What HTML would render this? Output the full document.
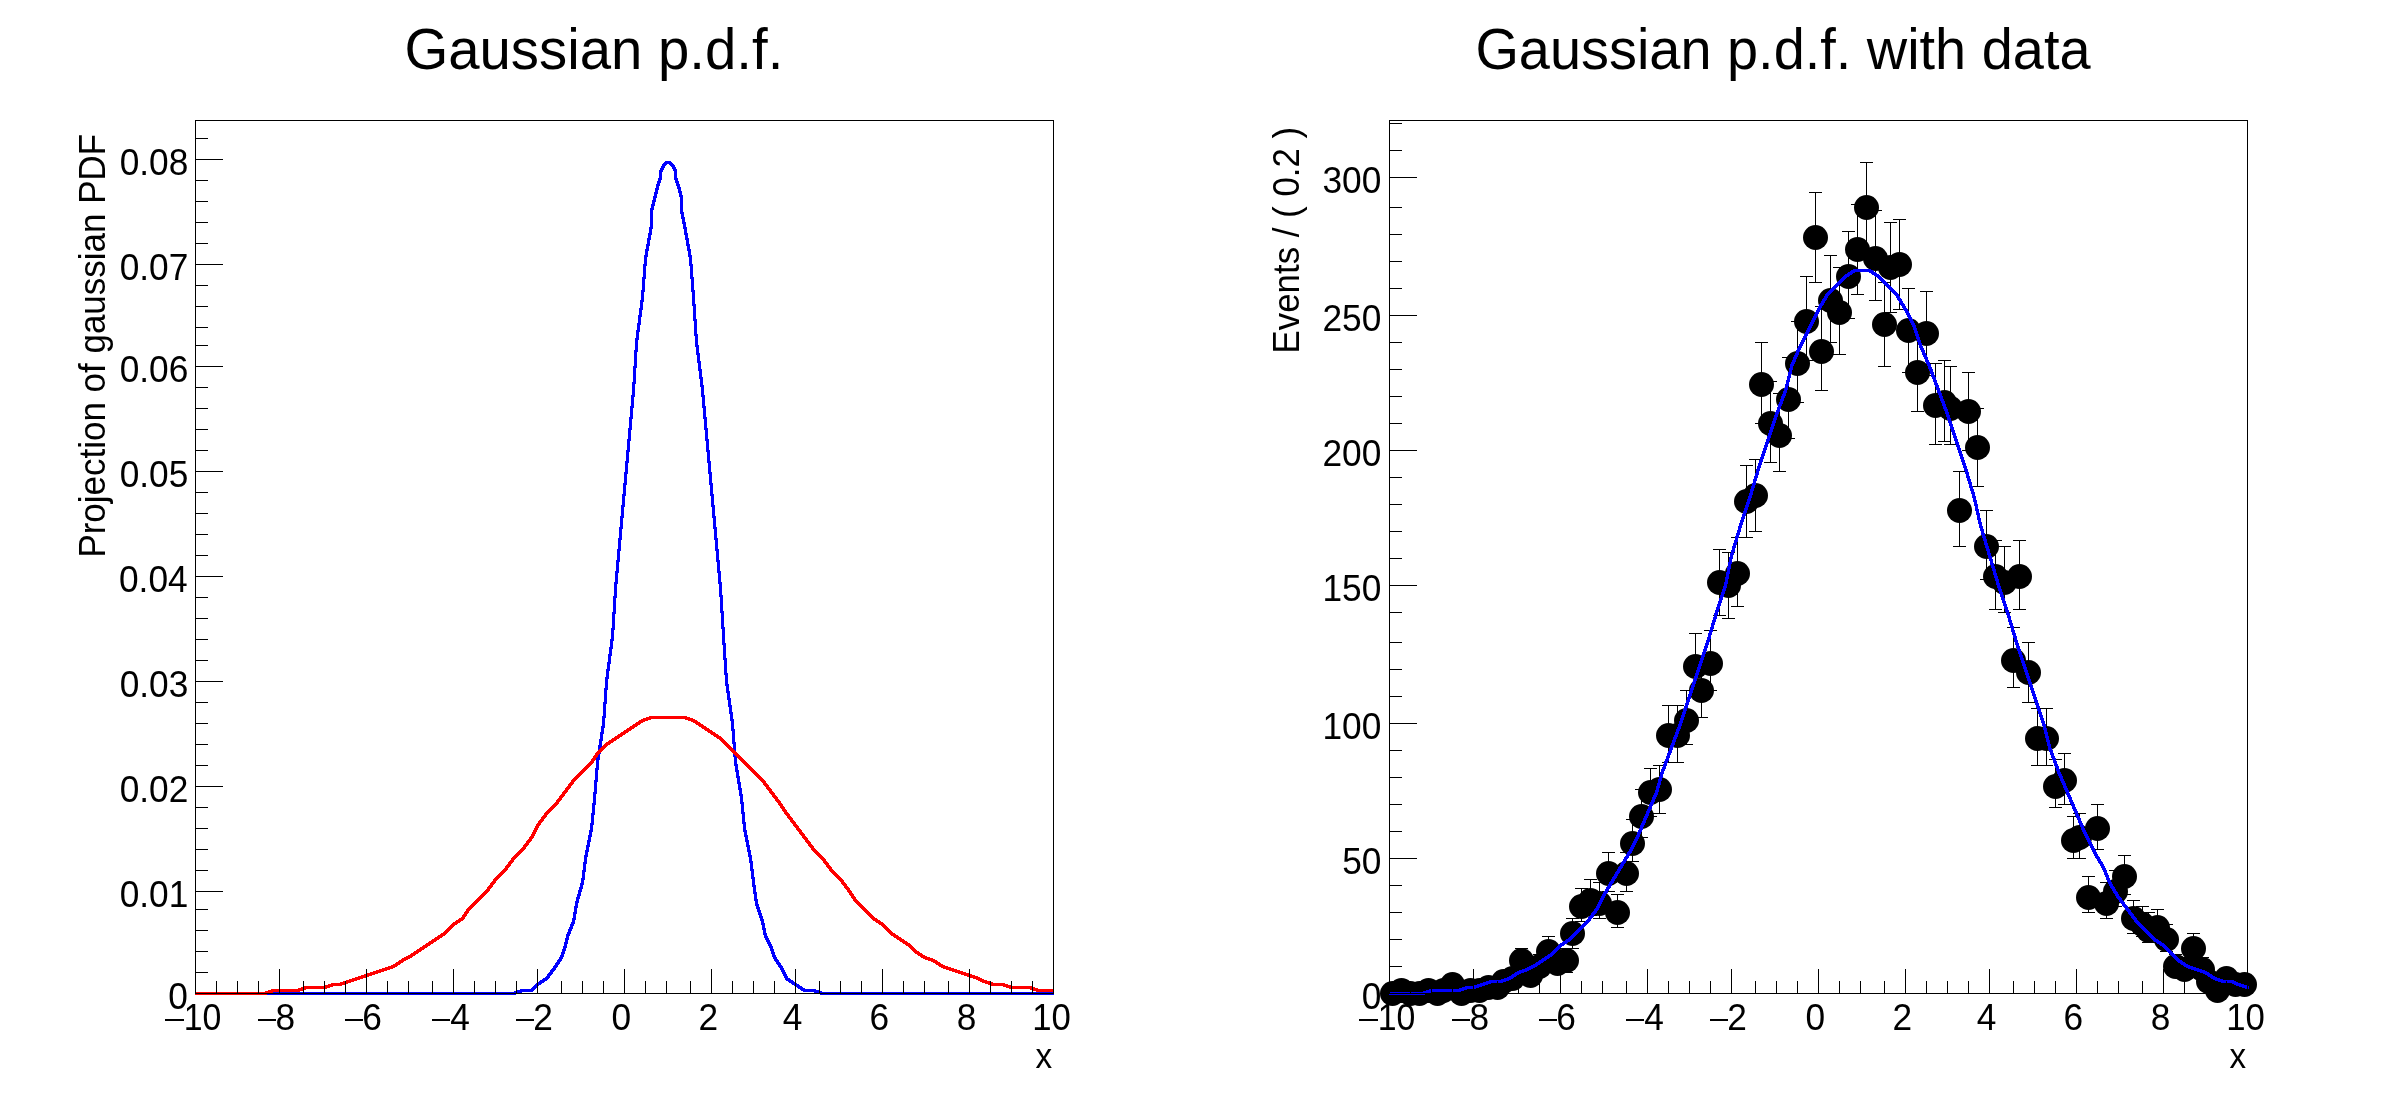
<!DOCTYPE html>
<html><head><meta charset="utf-8"><style>
html,body{margin:0;padding:0;background:#fff;overflow:hidden;}
svg{display:block;will-change:transform;}
text{font-family:"Liberation Sans",sans-serif;font-size:100px;fill:#000;}
.t{opacity:0.999;}
</style></head><body>
<svg width="2388" height="1116" viewBox="0 0 2388 1116">
<rect x="0" y="0" width="2388" height="1116" fill="#fff"/>
<g shape-rendering="crispEdges">
<path fill="#0000ff" d="M665 161h6v1h-6zM664 162h8v1h-8zM663 163h10v1h-10zM662 164h5v1h-5zM669 164h5v1h-5zM670 165h5v1h-5zM662 165h4v1h-4zM671 166h4v1h-4zM661 166h4v2h-4zM672 167h4v2h-4zM660 168h4v2h-4zM673 169h4v2h-4zM659 170h4v2h-4zM659 172h3v6h-3zM674 171h3v7h-3zM674 178h4v2h-4zM658 178h4v2h-4zM658 180h3v1h-3zM675 180h3v1h-3zM657 181h4v2h-4zM675 181h4v2h-4zM676 183h3v1h-3zM657 183h3v1h-3zM676 184h4v2h-4zM656 184h4v2h-4zM677 186h3v1h-3zM656 186h3v2h-3zM677 187h4v2h-4zM655 188h4v2h-4zM678 189h3v2h-3zM655 190h3v2h-3zM678 191h4v2h-4zM654 192h4v2h-4zM679 193h3v2h-3zM654 194h3v2h-3zM679 195h4v2h-4zM653 196h4v2h-4zM653 198h3v2h-3zM652 200h4v2h-4zM652 202h3v2h-3zM651 204h4v2h-4zM651 206h3v2h-3zM650 208h4v2h-4zM680 197h3v15h-3zM680 212h4v2h-4zM681 214h3v3h-3zM681 217h4v2h-4zM682 219h3v3h-3zM682 222h4v2h-4zM650 210h3v17h-3zM683 224h3v3h-3zM683 227h4v2h-4zM649 227h4v2h-4zM649 229h3v4h-3zM684 229h3v4h-3zM648 233h4v2h-4zM684 233h4v2h-4zM648 235h3v3h-3zM685 235h3v3h-3zM685 238h4v2h-4zM647 238h4v2h-4zM647 240h3v4h-3zM686 240h3v4h-3zM646 244h4v2h-4zM686 244h4v2h-4zM646 246h3v3h-3zM687 246h3v3h-3zM645 249h4v2h-4zM687 249h4v2h-4zM645 251h3v4h-3zM688 251h3v4h-3zM688 255h4v2h-4zM644 255h4v2h-4zM689 257h3v7h-3zM644 257h3v7h-3zM643 264h4v2h-4zM689 264h4v2h-4zM643 266h3v11h-3zM690 266h3v11h-3zM690 277h4v2h-4zM642 277h4v2h-4zM691 279h3v11h-3zM642 279h3v11h-3zM641 290h4v2h-4zM691 290h4v2h-4zM641 292h3v8h-3zM640 300h4v2h-4zM692 292h3v12h-3zM692 304h4v2h-4zM640 302h3v6h-3zM639 308h4v2h-4zM639 310h3v5h-3zM638 315h4v2h-4zM693 306h3v13h-3zM693 319h4v2h-4zM638 317h3v6h-3zM637 323h4v2h-4zM637 325h3v5h-3zM636 330h4v2h-4zM694 321h3v13h-3zM694 334h4v2h-4zM636 332h3v6h-3zM635 338h4v2h-4zM695 336h3v9h-3zM695 345h4v2h-4zM635 340h3v10h-3zM634 350h4v2h-4zM696 347h3v6h-3zM696 353h4v2h-4zM697 355h3v6h-3zM697 361h4v2h-4zM634 352h3v14h-3zM633 366h4v2h-4zM698 363h3v6h-3zM698 369h4v2h-4zM699 371h3v6h-3zM699 377h4v2h-4zM633 368h3v14h-3zM632 382h4v2h-4zM700 379h3v6h-3zM700 385h4v2h-4zM701 387h3v8h-3zM632 384h3v11h-3zM631 395h4v2h-4zM701 395h4v2h-4zM702 397h3v9h-3zM631 397h3v9h-3zM630 406h4v2h-4zM702 406h4v2h-4zM703 408h3v9h-3zM630 408h3v9h-3zM703 417h4v2h-4zM629 417h4v2h-4zM704 419h3v9h-3zM629 419h3v9h-3zM628 428h4v2h-4zM704 428h4v2h-4zM628 430h3v9h-3zM705 430h3v9h-3zM705 439h4v2h-4zM627 439h4v2h-4zM627 441h3v9h-3zM706 441h3v9h-3zM706 450h4v2h-4zM626 450h4v2h-4zM626 452h3v9h-3zM707 452h3v9h-3zM707 461h4v2h-4zM625 461h4v2h-4zM625 463h3v9h-3zM708 463h3v9h-3zM624 472h4v2h-4zM708 472h4v2h-4zM709 474h3v9h-3zM624 474h3v9h-3zM623 483h4v2h-4zM709 483h4v2h-4zM710 485h3v9h-3zM623 485h3v9h-3zM710 494h4v2h-4zM622 494h4v2h-4zM711 496h3v9h-3zM622 496h3v9h-3zM711 505h4v2h-4zM621 505h4v2h-4zM712 507h3v9h-3zM621 507h3v9h-3zM712 516h4v2h-4zM620 516h4v2h-4zM713 518h3v9h-3zM620 518h3v9h-3zM619 527h4v2h-4zM713 527h4v2h-4zM619 529h3v9h-3zM714 529h3v9h-3zM714 538h4v2h-4zM618 538h4v2h-4zM715 540h3v9h-3zM618 540h3v9h-3zM617 549h4v2h-4zM715 549h4v2h-4zM617 551h3v9h-3zM716 551h3v9h-3zM716 560h4v2h-4zM616 560h4v2h-4zM616 562h3v9h-3zM717 562h3v9h-3zM615 571h4v2h-4zM717 571h4v2h-4zM615 573h3v9h-3zM718 573h3v9h-3zM718 582h4v2h-4zM614 582h4v2h-4zM719 584h3v11h-3zM614 584h3v12h-3zM719 595h4v2h-4zM613 596h4v2h-4zM720 597h3v14h-3zM613 598h3v14h-3zM720 611h4v2h-4zM612 612h4v2h-4zM721 613h3v14h-3zM612 614h3v14h-3zM721 627h4v2h-4zM611 628h4v2h-4zM611 630h3v9h-3zM610 639h4v2h-4zM722 629h3v14h-3zM722 643h4v2h-4zM610 641h3v6h-3zM609 647h4v2h-4zM609 649h3v5h-3zM608 654h4v2h-4zM723 645h3v13h-3zM723 658h4v2h-4zM608 656h3v6h-3zM607 662h4v2h-4zM607 664h3v5h-3zM606 669h4v2h-4zM724 660h3v13h-3zM724 673h4v2h-4zM606 671h3v6h-3zM605 677h4v2h-4zM725 675h3v9h-3zM725 684h4v2h-4zM605 679h3v9h-3zM604 688h4v2h-4zM726 686h3v5h-3zM726 691h4v2h-4zM727 693h3v5h-3zM727 698h4v2h-4zM604 690h3v12h-3zM603 702h4v2h-4zM728 700h3v5h-3zM728 705h4v2h-4zM729 707h3v5h-3zM729 712h4v2h-4zM603 704h3v12h-3zM602 716h4v2h-4zM730 714h3v5h-3zM730 719h4v2h-4zM602 718h3v8h-3zM601 726h4v2h-4zM731 721h3v8h-3zM731 729h4v2h-4zM601 728h3v4h-3zM600 732h4v2h-4zM600 734h3v5h-3zM599 739h4v2h-4zM732 731h3v11h-3zM732 742h4v2h-4zM599 741h3v4h-3zM598 745h4v2h-4zM598 747h3v5h-3zM597 752h4v2h-4zM733 744h3v11h-3zM733 755h4v2h-4zM597 754h3v4h-3zM596 758h4v2h-4zM734 757h3v7h-3zM734 764h4v2h-4zM596 760h3v8h-3zM595 768h4v2h-4zM735 766h3v4h-3zM735 770h4v2h-4zM736 772h3v4h-3zM736 776h4v2h-4zM595 770h3v10h-3zM737 778h3v4h-3zM594 780h4v2h-4zM737 782h4v2h-4zM738 784h3v4h-3zM738 788h4v2h-4zM594 782h3v10h-3zM593 792h4v2h-4zM739 790h3v4h-3zM739 794h4v2h-4zM740 796h3v6h-3zM593 794h3v9h-3zM740 802h4v2h-4zM592 803h4v2h-4zM741 804h3v8h-3zM592 805h3v8h-3zM741 812h4v2h-4zM591 813h4v2h-4zM742 814h3v8h-3zM591 815h3v8h-3zM742 822h4v2h-4zM590 823h4v2h-4zM743 824h3v6h-3zM590 825h3v5h-3zM743 830h4v2h-4zM589 830h4v2h-4zM744 832h3v3h-3zM589 832h3v3h-3zM588 835h4v2h-4zM744 835h4v2h-4zM588 837h3v3h-3zM745 837h3v3h-3zM745 840h4v2h-4zM587 840h4v2h-4zM746 842h3v3h-3zM587 842h3v3h-3zM586 845h4v2h-4zM746 845h4v2h-4zM586 847h3v3h-3zM747 847h3v3h-3zM747 850h4v2h-4zM585 850h4v2h-4zM748 852h3v3h-3zM585 852h3v3h-3zM584 855h4v2h-4zM748 855h4v2h-4zM749 857h3v4h-3zM584 857h3v5h-3zM749 861h4v2h-4zM583 862h4v2h-4zM750 863h3v6h-3zM583 864h3v6h-3zM750 869h4v2h-4zM582 870h4v2h-4zM751 871h3v6h-3zM582 872h3v6h-3zM751 877h4v2h-4zM581 878h4v2h-4zM581 880h3v3h-3zM580 883h4v2h-4zM752 879h3v6h-3zM580 885h3v2h-3zM752 885h4v2h-4zM579 887h4v2h-4zM579 889h3v1h-3zM753 887h3v5h-3zM578 890h4v2h-4zM753 892h4v2h-4zM578 892h3v2h-3zM577 894h4v2h-4zM577 896h3v1h-3zM754 894h3v5h-3zM576 897h4v2h-4zM754 899h4v2h-4zM576 899h3v2h-3zM575 901h4v2h-4zM755 901h3v3h-3zM575 903h3v3h-3zM755 904h4v2h-4zM756 906h3v1h-3zM574 906h4v2h-4zM756 907h4v2h-4zM757 909h3v1h-3zM574 908h3v4h-3zM757 910h4v2h-4zM758 912h3v1h-3zM573 912h4v2h-4zM758 913h4v2h-4zM759 915h3v1h-3zM573 914h3v4h-3zM759 916h4v2h-4zM760 918h3v1h-3zM572 918h4v2h-4zM760 919h4v2h-4zM572 920h3v2h-3zM761 921h3v2h-3zM571 922h4v2h-4zM761 923h4v2h-4zM570 924h4v2h-4zM570 926h3v1h-3zM762 925h3v3h-3zM569 927h4v2h-4zM762 928h4v2h-4zM568 929h4v2h-4zM568 931h3v1h-3zM763 930h3v3h-3zM567 932h4v2h-4zM763 933h4v2h-4zM566 934h4v2h-4zM764 935h3v1h-3zM566 936h3v2h-3zM764 936h4v2h-4zM765 938h4v2h-4zM565 938h4v2h-4zM766 940h4v2h-4zM565 940h3v2h-3zM767 942h4v2h-4zM564 942h4v2h-4zM564 944h3v2h-3zM768 944h4v2h-4zM769 946h4v2h-4zM563 946h4v2h-4zM770 948h3v1h-3zM563 948h3v1h-3zM562 949h4v2h-4zM770 949h4v2h-4zM562 951h3v1h-3zM771 951h3v1h-3zM771 952h4v2h-4zM561 952h4v2h-4zM561 954h3v1h-3zM772 954h3v1h-3zM772 955h4v2h-4zM560 955h4v2h-4zM773 957h4v2h-4zM559 957h4v2h-4zM774 959h4v1h-4zM558 959h4v1h-4zM774 960h5v1h-5zM557 960h5v1h-5zM557 961h4v1h-4zM775 961h4v1h-4zM776 962h4v1h-4zM556 962h4v1h-4zM776 963h5v1h-5zM555 963h5v1h-5zM555 964h4v1h-4zM777 964h4v1h-4zM778 965h4v1h-4zM554 965h4v1h-4zM778 966h5v1h-5zM553 966h5v1h-5zM553 967h4v1h-4zM779 967h4v1h-4zM552 968h4v1h-4zM780 968h4v2h-4zM551 969h5v1h-5zM550 970h5v1h-5zM550 971h4v1h-4zM781 970h4v2h-4zM549 972h4v1h-4zM782 972h4v2h-4zM548 973h5v1h-5zM547 974h5v1h-5zM547 975h4v1h-4zM783 974h4v2h-4zM546 976h4v1h-4zM545 977h5v1h-5zM784 976h4v2h-4zM543 978h6v1h-6zM785 978h5v1h-5zM785 979h6v1h-6zM542 979h6v1h-6zM786 980h7v1h-7zM540 980h7v1h-7zM788 981h6v1h-6zM539 981h6v1h-6zM537 982h7v1h-7zM789 982h7v1h-7zM536 983h6v1h-6zM791 983h6v1h-6zM535 984h6v1h-6zM792 984h7v1h-7zM534 985h5v1h-5zM794 985h6v1h-6zM795 986h7v1h-7zM533 986h5v1h-5zM532 987h5v1h-5zM797 987h6v1h-6zM531 988h5v1h-5zM798 988h7v1h-7zM520 989h15v1h-15zM800 989h16v1h-16zM517 990h17v1h-17zM801 990h18v1h-18zM803 991h19v1h-19zM514 991h19v1h-19zM195 992h327v1h-327zM814 992h240v1h-240zM195 993h324v1h-324zM817 993h237v1h-237zM195 994h321v1h-321zM820 994h234v1h-234z"/>
<path fill="#ff0000" d="M649 716h38v1h-38zM646 717h44v1h-44zM643 718h50v1h-50zM685 719h10v1h-10zM641 719h10v1h-10zM639 720h9v1h-9zM688 720h9v1h-9zM691 721h7v1h-7zM638 721h7v1h-7zM636 722h7v1h-7zM693 722h7v1h-7zM695 723h6v1h-6zM635 723h6v1h-6zM696 724h7v1h-7zM633 724h7v1h-7zM698 725h6v1h-6zM632 725h6v1h-6zM630 726h7v1h-7zM699 726h7v1h-7zM629 727h6v1h-6zM701 727h6v1h-6zM702 728h7v1h-7zM627 728h7v1h-7zM704 729h6v1h-6zM626 729h6v1h-6zM624 730h7v1h-7zM705 730h7v1h-7zM707 731h6v1h-6zM623 731h6v1h-6zM621 732h7v1h-7zM708 732h7v1h-7zM620 733h6v1h-6zM710 733h6v1h-6zM711 734h7v1h-7zM618 734h7v1h-7zM713 735h6v1h-6zM617 735h6v1h-6zM615 736h7v1h-7zM714 736h7v1h-7zM614 737h6v1h-6zM716 737h6v1h-6zM612 738h7v1h-7zM717 738h6v1h-6zM719 739h5v1h-5zM611 739h6v1h-6zM609 740h7v1h-7zM720 740h5v1h-5zM721 741h5v1h-5zM608 741h6v1h-6zM722 742h5v1h-5zM606 742h7v1h-7zM605 743h6v1h-6zM723 743h5v1h-5zM604 744h6v1h-6zM724 744h5v1h-5zM725 745h5v1h-5zM603 745h5v1h-5zM726 746h5v1h-5zM602 746h5v1h-5zM727 747h5v1h-5zM601 747h5v1h-5zM728 748h5v1h-5zM600 748h5v1h-5zM729 749h5v1h-5zM599 749h5v1h-5zM730 750h5v1h-5zM598 750h5v1h-5zM597 751h5v1h-5zM731 751h5v1h-5zM596 752h5v1h-5zM732 752h5v1h-5zM595 753h5v1h-5zM733 753h5v1h-5zM595 754h4v1h-4zM734 754h5v1h-5zM594 755h4v1h-4zM735 755h5v1h-5zM736 756h5v1h-5zM593 756h5v1h-5zM593 757h4v1h-4zM737 757h5v1h-5zM592 758h4v1h-4zM738 758h5v1h-5zM739 759h5v1h-5zM591 759h5v1h-5zM591 760h4v1h-4zM740 760h5v1h-5zM741 761h5v1h-5zM590 761h4v1h-4zM589 762h5v1h-5zM742 762h5v1h-5zM743 763h5v1h-5zM588 763h5v1h-5zM587 764h5v1h-5zM744 764h5v1h-5zM745 765h5v1h-5zM586 765h5v1h-5zM585 766h5v1h-5zM746 766h5v1h-5zM747 767h5v1h-5zM584 767h5v1h-5zM748 768h5v1h-5zM583 768h5v1h-5zM582 769h5v1h-5zM749 769h5v1h-5zM750 770h5v1h-5zM581 770h5v1h-5zM580 771h5v1h-5zM751 771h5v1h-5zM752 772h5v1h-5zM579 772h5v1h-5zM578 773h5v1h-5zM753 773h5v1h-5zM754 774h5v1h-5zM577 774h5v1h-5zM576 775h5v1h-5zM755 775h5v1h-5zM756 776h5v1h-5zM575 776h5v1h-5zM757 777h5v1h-5zM574 777h5v1h-5zM758 778h5v1h-5zM573 778h5v1h-5zM759 779h5v1h-5zM572 779h5v1h-5zM571 780h5v1h-5zM760 780h5v1h-5zM761 781h5v1h-5zM571 781h4v1h-4zM762 782h4v1h-4zM570 782h4v1h-4zM763 783h4v1h-4zM569 783h5v1h-5zM763 784h5v1h-5zM568 784h5v1h-5zM568 785h4v1h-4zM764 785h5v1h-5zM567 786h4v1h-4zM765 786h4v1h-4zM766 787h4v1h-4zM566 787h5v1h-5zM565 788h5v1h-5zM766 788h5v1h-5zM767 789h5v1h-5zM565 789h4v1h-4zM564 790h4v1h-4zM768 790h4v1h-4zM563 791h5v1h-5zM769 791h4v1h-4zM562 792h5v1h-5zM769 792h5v1h-5zM562 793h4v1h-4zM770 793h5v1h-5zM771 794h4v1h-4zM561 794h4v1h-4zM772 795h4v1h-4zM560 795h5v1h-5zM772 796h5v1h-5zM559 796h5v1h-5zM559 797h4v1h-4zM773 797h5v1h-5zM774 798h4v1h-4zM558 798h4v1h-4zM775 799h4v1h-4zM557 799h5v1h-5zM556 800h5v1h-5zM775 800h5v1h-5zM556 801h4v1h-4zM776 801h5v1h-5zM555 802h4v1h-4zM777 802h4v1h-4zM554 803h5v1h-5zM778 803h4v1h-4zM778 804h5v1h-5zM553 804h5v1h-5zM779 805h4v1h-4zM552 805h5v1h-5zM780 806h4v1h-4zM551 806h5v1h-5zM780 807h5v1h-5zM550 807h5v1h-5zM549 808h5v1h-5zM781 808h4v1h-4zM782 809h4v1h-4zM548 809h5v1h-5zM547 810h5v1h-5zM782 810h5v1h-5zM546 811h5v1h-5zM783 811h4v1h-4zM545 812h5v1h-5zM784 812h4v1h-4zM544 813h5v1h-5zM784 813h5v1h-5zM785 814h5v1h-5zM544 814h4v1h-4zM786 815h4v1h-4zM543 815h4v1h-4zM787 816h4v1h-4zM542 816h5v1h-5zM787 817h5v1h-5zM541 817h5v1h-5zM541 818h4v1h-4zM788 818h5v1h-5zM540 819h4v1h-4zM789 819h4v1h-4zM539 820h5v1h-5zM790 820h4v1h-4zM538 821h5v1h-5zM790 821h5v1h-5zM538 822h4v1h-4zM791 822h5v1h-5zM537 823h4v1h-4zM792 823h4v1h-4zM536 824h5v1h-5zM793 824h4v1h-4zM793 825h5v1h-5zM536 825h4v1h-4zM794 826h5v1h-5zM795 827h4v1h-4zM535 826h4v2h-4zM796 828h4v1h-4zM534 828h4v2h-4zM796 829h5v1h-5zM797 830h5v1h-5zM798 831h4v1h-4zM533 830h4v2h-4zM799 832h4v1h-4zM799 833h5v1h-5zM532 832h4v2h-4zM800 834h5v1h-5zM531 834h4v2h-4zM801 835h4v1h-4zM802 836h4v1h-4zM530 836h4v1h-4zM529 837h5v1h-5zM802 837h5v1h-5zM803 838h5v1h-5zM529 838h4v1h-4zM804 839h4v1h-4zM528 839h4v1h-4zM805 840h4v1h-4zM527 840h5v1h-5zM805 841h5v1h-5zM526 841h5v1h-5zM526 842h4v1h-4zM806 842h5v1h-5zM807 843h4v1h-4zM525 843h4v1h-4zM808 844h4v1h-4zM524 844h5v1h-5zM523 845h5v1h-5zM808 845h5v1h-5zM809 846h5v1h-5zM523 846h4v1h-4zM522 847h4v1h-4zM810 847h4v1h-4zM521 848h5v1h-5zM811 848h4v1h-4zM811 849h5v1h-5zM520 849h5v1h-5zM812 850h5v1h-5zM519 850h5v1h-5zM813 851h5v1h-5zM518 851h5v1h-5zM814 852h5v1h-5zM517 852h5v1h-5zM516 853h5v1h-5zM815 853h5v1h-5zM816 854h5v1h-5zM515 854h5v1h-5zM514 855h5v1h-5zM817 855h5v1h-5zM818 856h5v1h-5zM513 856h5v1h-5zM512 857h5v1h-5zM819 857h5v1h-5zM820 858h5v1h-5zM511 858h5v1h-5zM511 859h4v1h-4zM821 859h5v1h-5zM822 860h4v1h-4zM510 860h4v1h-4zM509 861h5v1h-5zM823 861h4v1h-4zM823 862h5v1h-5zM508 862h5v1h-5zM824 863h5v1h-5zM508 863h4v1h-4zM507 864h4v1h-4zM825 864h4v1h-4zM826 865h4v1h-4zM506 865h5v1h-5zM505 866h5v1h-5zM826 866h5v1h-5zM505 867h4v1h-4zM827 867h5v1h-5zM828 868h4v1h-4zM504 868h4v1h-4zM829 869h4v1h-4zM503 869h5v1h-5zM829 870h5v1h-5zM502 870h5v1h-5zM501 871h5v1h-5zM830 871h5v1h-5zM831 872h5v1h-5zM500 872h5v1h-5zM499 873h5v1h-5zM832 873h5v1h-5zM498 874h5v1h-5zM833 874h5v1h-5zM497 875h5v1h-5zM834 875h5v1h-5zM496 876h5v1h-5zM835 876h5v1h-5zM836 877h5v1h-5zM495 877h5v1h-5zM494 878h5v1h-5zM837 878h5v1h-5zM838 879h5v1h-5zM493 879h5v1h-5zM493 880h4v1h-4zM839 880h5v1h-5zM492 881h4v1h-4zM840 881h4v1h-4zM841 882h4v1h-4zM491 882h5v1h-5zM490 883h5v1h-5zM841 883h5v1h-5zM842 884h5v1h-5zM490 884h4v1h-4zM489 885h4v1h-4zM843 885h4v1h-4zM488 886h5v1h-5zM844 886h4v1h-4zM487 887h5v1h-5zM844 887h5v1h-5zM487 888h4v1h-4zM845 888h5v1h-5zM846 889h4v1h-4zM486 889h4v1h-4zM847 890h4v1h-4zM485 890h5v1h-5zM847 891h5v1h-5zM484 891h5v1h-5zM483 892h5v1h-5zM848 892h4v1h-4zM482 893h5v1h-5zM849 893h4v1h-4zM481 894h5v1h-5zM849 894h5v1h-5zM850 895h4v1h-4zM480 895h5v1h-5zM851 896h4v1h-4zM479 896h5v1h-5zM851 897h5v1h-5zM478 897h5v1h-5zM852 898h4v1h-4zM477 898h5v1h-5zM853 899h4v1h-4zM476 899h5v1h-5zM475 900h5v1h-5zM853 900h5v1h-5zM474 901h5v1h-5zM854 901h5v1h-5zM855 902h5v1h-5zM473 902h5v1h-5zM856 903h5v1h-5zM472 903h5v1h-5zM857 904h5v1h-5zM471 904h5v1h-5zM858 905h5v1h-5zM470 905h5v1h-5zM469 906h5v1h-5zM859 906h5v1h-5zM860 907h5v1h-5zM468 907h5v1h-5zM861 908h5v1h-5zM467 908h5v1h-5zM466 909h5v1h-5zM862 909h5v1h-5zM863 910h5v1h-5zM466 910h4v1h-4zM465 911h4v1h-4zM864 911h5v1h-5zM464 912h5v1h-5zM865 912h5v1h-5zM866 913h5v1h-5zM464 913h4v1h-4zM867 914h5v1h-5zM463 914h4v1h-4zM868 915h5v1h-5zM462 915h5v1h-5zM869 916h5v1h-5zM462 916h4v1h-4zM461 917h4v1h-4zM870 917h5v1h-5zM871 918h6v1h-6zM459 918h6v1h-6zM458 919h6v1h-6zM872 919h6v1h-6zM456 920h7v1h-7zM873 920h7v1h-7zM455 921h6v1h-6zM875 921h6v1h-6zM453 922h7v1h-7zM876 922h7v1h-7zM878 923h6v1h-6zM452 923h6v1h-6zM451 924h6v1h-6zM879 924h6v1h-6zM450 925h5v1h-5zM881 925h5v1h-5zM882 926h5v1h-5zM449 926h5v1h-5zM448 927h5v1h-5zM883 927h5v1h-5zM884 928h5v1h-5zM447 928h5v1h-5zM446 929h5v1h-5zM885 929h5v1h-5zM886 930h5v1h-5zM445 930h5v1h-5zM887 931h5v1h-5zM444 931h5v1h-5zM888 932h5v1h-5zM443 932h5v1h-5zM889 933h6v1h-6zM441 933h6v1h-6zM890 934h6v1h-6zM440 934h6v1h-6zM438 935h7v1h-7zM891 935h7v1h-7zM437 936h6v1h-6zM893 936h6v1h-6zM894 937h7v1h-7zM435 937h7v1h-7zM896 938h6v1h-6zM434 938h6v1h-6zM432 939h7v1h-7zM897 939h7v1h-7zM431 940h6v1h-6zM899 940h6v1h-6zM429 941h7v1h-7zM900 941h7v1h-7zM428 942h6v1h-6zM902 942h6v1h-6zM426 943h7v1h-7zM903 943h7v1h-7zM425 944h6v1h-6zM905 944h6v1h-6zM906 945h6v1h-6zM423 945h7v1h-7zM422 946h6v1h-6zM908 946h5v1h-5zM420 947h7v1h-7zM909 947h5v1h-5zM419 948h6v1h-6zM910 948h5v1h-5zM911 949h5v1h-5zM417 949h7v1h-7zM912 950h5v1h-5zM416 950h6v1h-6zM414 951h7v1h-7zM913 951h6v1h-6zM413 952h6v1h-6zM914 952h6v1h-6zM411 953h7v1h-7zM915 953h7v1h-7zM917 954h6v1h-6zM410 954h6v1h-6zM918 955h7v1h-7zM408 955h7v1h-7zM920 956h7v1h-7zM406 956h7v1h-7zM921 957h9v1h-9zM404 957h8v1h-8zM402 958h8v1h-8zM923 958h10v1h-10zM925 959h10v1h-10zM401 959h7v1h-7zM399 960h7v1h-7zM928 960h9v1h-9zM398 961h6v1h-6zM931 961h7v1h-7zM396 962h7v1h-7zM933 962h7v1h-7zM395 963h6v1h-6zM935 963h6v1h-6zM936 964h7v1h-7zM393 964h7v1h-7zM938 965h7v1h-7zM391 965h7v1h-7zM939 966h9v1h-9zM388 966h9v1h-9zM941 967h10v1h-10zM385 967h10v1h-10zM382 968h11v1h-11zM943 968h11v1h-11zM946 969h11v1h-11zM379 969h11v1h-11zM376 970h11v1h-11zM949 970h11v1h-11zM373 971h11v1h-11zM952 971h11v1h-11zM955 972h11v1h-11zM370 972h11v1h-11zM367 973h11v1h-11zM958 973h11v1h-11zM364 974h11v1h-11zM961 974h11v1h-11zM964 975h11v1h-11zM361 975h11v1h-11zM358 976h11v1h-11zM967 976h11v1h-11zM970 977h10v1h-10zM355 977h11v1h-11zM973 978h9v1h-9zM352 978h11v1h-11zM976 979h8v1h-8zM349 979h11v1h-11zM978 980h9v1h-9zM346 980h11v1h-11zM343 981h11v1h-11zM980 981h10v1h-10zM982 982h11v1h-11zM340 982h11v1h-11zM985 983h20v1h-20zM331 983h17v1h-17zM328 984h17v1h-17zM988 984h20v1h-20zM325 985h17v1h-17zM991 985h20v1h-20zM1003 986h29v1h-29zM304 986h29v1h-29zM301 987h29v1h-29zM1006 987h29v1h-29zM298 988h29v1h-29zM1009 988h29v1h-29zM1030 989h24v1h-24zM271 989h35v1h-35zM268 990h35v1h-35zM1033 990h21v1h-21zM265 991h35v1h-35zM1036 991h18v1h-18zM195 992h78v1h-78zM195 993h75v1h-75zM195 994h72v1h-72z"/>
<rect x="195" y="120" width="859" height="1" fill="#000"/>
<rect x="195" y="993" width="859" height="1" fill="#000"/>
<rect x="195" y="120" width="1" height="874" fill="#000"/>
<rect x="1053" y="120" width="1" height="874" fill="#000"/>
<rect x="195" y="969" width="1" height="25" fill="#000"/>
<rect x="216" y="981" width="1" height="13" fill="#000"/>
<rect x="237" y="981" width="1" height="13" fill="#000"/>
<rect x="258" y="981" width="1" height="13" fill="#000"/>
<rect x="279" y="969" width="1" height="25" fill="#000"/>
<rect x="303" y="981" width="1" height="13" fill="#000"/>
<rect x="324" y="981" width="1" height="13" fill="#000"/>
<rect x="345" y="981" width="1" height="13" fill="#000"/>
<rect x="366" y="969" width="1" height="25" fill="#000"/>
<rect x="387" y="981" width="1" height="13" fill="#000"/>
<rect x="408" y="981" width="1" height="13" fill="#000"/>
<rect x="432" y="981" width="1" height="13" fill="#000"/>
<rect x="453" y="969" width="1" height="25" fill="#000"/>
<rect x="474" y="981" width="1" height="13" fill="#000"/>
<rect x="495" y="981" width="1" height="13" fill="#000"/>
<rect x="516" y="981" width="1" height="13" fill="#000"/>
<rect x="537" y="969" width="1" height="25" fill="#000"/>
<rect x="561" y="981" width="1" height="13" fill="#000"/>
<rect x="582" y="981" width="1" height="13" fill="#000"/>
<rect x="603" y="981" width="1" height="13" fill="#000"/>
<rect x="624" y="969" width="1" height="25" fill="#000"/>
<rect x="645" y="981" width="1" height="13" fill="#000"/>
<rect x="666" y="981" width="1" height="13" fill="#000"/>
<rect x="690" y="981" width="1" height="13" fill="#000"/>
<rect x="711" y="969" width="1" height="25" fill="#000"/>
<rect x="732" y="981" width="1" height="13" fill="#000"/>
<rect x="753" y="981" width="1" height="13" fill="#000"/>
<rect x="774" y="981" width="1" height="13" fill="#000"/>
<rect x="795" y="969" width="1" height="25" fill="#000"/>
<rect x="819" y="981" width="1" height="13" fill="#000"/>
<rect x="840" y="981" width="1" height="13" fill="#000"/>
<rect x="861" y="981" width="1" height="13" fill="#000"/>
<rect x="882" y="969" width="1" height="25" fill="#000"/>
<rect x="903" y="981" width="1" height="13" fill="#000"/>
<rect x="924" y="981" width="1" height="13" fill="#000"/>
<rect x="948" y="981" width="1" height="13" fill="#000"/>
<rect x="969" y="969" width="1" height="25" fill="#000"/>
<rect x="990" y="981" width="1" height="13" fill="#000"/>
<rect x="1011" y="981" width="1" height="13" fill="#000"/>
<rect x="1032" y="981" width="1" height="13" fill="#000"/>
<rect x="1053" y="969" width="1" height="25" fill="#000"/>
<rect x="165.10" y="1018.50" width="18.70" height="2.40" fill="#000"/>
<text transform="translate(183.79,1029.60) scale(0.3384,0.3620)">10</text>
<rect x="258.00" y="1018.50" width="18.30" height="2.40" fill="#000"/>
<text transform="translate(275.59,1029.60) scale(0.3527,0.3620)">8</text>
<rect x="345.00" y="1018.50" width="18.30" height="2.40" fill="#000"/>
<text transform="translate(362.24,1029.60) scale(0.3527,0.3620)">6</text>
<rect x="432.00" y="1018.50" width="18.30" height="2.40" fill="#000"/>
<text transform="translate(450.29,1029.60) scale(0.3527,0.3620)">4</text>
<rect x="516.00" y="1018.50" width="18.30" height="2.40" fill="#000"/>
<text transform="translate(533.24,1029.60) scale(0.3527,0.3620)">2</text>
<text transform="translate(611.62,1029.60) scale(0.3527,0.3620)">0</text>
<text transform="translate(698.62,1029.60) scale(0.3527,0.3620)">2</text>
<text transform="translate(782.80,1029.60) scale(0.3527,0.3620)">4</text>
<text transform="translate(869.62,1029.60) scale(0.3527,0.3620)">6</text>
<text transform="translate(956.80,1029.60) scale(0.3527,0.3620)">8</text>
<text transform="translate(1032.22,1029.60) scale(0.3475,0.3620)">10</text>
<rect x="195" y="993" width="28" height="1" fill="#000"/>
<rect x="195" y="972" width="13" height="1" fill="#000"/>
<rect x="195" y="951" width="13" height="1" fill="#000"/>
<rect x="195" y="930" width="13" height="1" fill="#000"/>
<rect x="195" y="909" width="13" height="1" fill="#000"/>
<rect x="195" y="891" width="28" height="1" fill="#000"/>
<rect x="195" y="870" width="13" height="1" fill="#000"/>
<rect x="195" y="849" width="13" height="1" fill="#000"/>
<rect x="195" y="828" width="13" height="1" fill="#000"/>
<rect x="195" y="807" width="13" height="1" fill="#000"/>
<rect x="195" y="786" width="28" height="1" fill="#000"/>
<rect x="195" y="765" width="13" height="1" fill="#000"/>
<rect x="195" y="744" width="13" height="1" fill="#000"/>
<rect x="195" y="723" width="13" height="1" fill="#000"/>
<rect x="195" y="702" width="13" height="1" fill="#000"/>
<rect x="195" y="681" width="28" height="1" fill="#000"/>
<rect x="195" y="660" width="13" height="1" fill="#000"/>
<rect x="195" y="639" width="13" height="1" fill="#000"/>
<rect x="195" y="618" width="13" height="1" fill="#000"/>
<rect x="195" y="597" width="13" height="1" fill="#000"/>
<rect x="195" y="576" width="28" height="1" fill="#000"/>
<rect x="195" y="555" width="13" height="1" fill="#000"/>
<rect x="195" y="534" width="13" height="1" fill="#000"/>
<rect x="195" y="513" width="13" height="1" fill="#000"/>
<rect x="195" y="492" width="13" height="1" fill="#000"/>
<rect x="195" y="471" width="28" height="1" fill="#000"/>
<rect x="195" y="450" width="13" height="1" fill="#000"/>
<rect x="195" y="429" width="13" height="1" fill="#000"/>
<rect x="195" y="408" width="13" height="1" fill="#000"/>
<rect x="195" y="387" width="13" height="1" fill="#000"/>
<rect x="195" y="366" width="28" height="1" fill="#000"/>
<rect x="195" y="345" width="13" height="1" fill="#000"/>
<rect x="195" y="327" width="13" height="1" fill="#000"/>
<rect x="195" y="306" width="13" height="1" fill="#000"/>
<rect x="195" y="285" width="13" height="1" fill="#000"/>
<rect x="195" y="264" width="28" height="1" fill="#000"/>
<rect x="195" y="243" width="13" height="1" fill="#000"/>
<rect x="195" y="222" width="13" height="1" fill="#000"/>
<rect x="195" y="201" width="13" height="1" fill="#000"/>
<rect x="195" y="180" width="13" height="1" fill="#000"/>
<rect x="195" y="159" width="28" height="1" fill="#000"/>
<rect x="195" y="138" width="13" height="1" fill="#000"/>
</g>
<text transform="translate(168.36,1009.40) scale(0.3527,0.3620)">0</text>
<text transform="translate(119.69,907.40) scale(0.3527,0.3620)">0.01</text>
<text transform="translate(119.69,802.40) scale(0.3527,0.3620)">0.02</text>
<text transform="translate(119.69,697.40) scale(0.3527,0.3620)">0.03</text>
<text transform="translate(118.98,592.40) scale(0.3527,0.3620)">0.04</text>
<text transform="translate(119.69,487.40) scale(0.3527,0.3620)">0.05</text>
<text transform="translate(119.69,382.40) scale(0.3527,0.3620)">0.06</text>
<text transform="translate(119.69,280.40) scale(0.3527,0.3620)">0.07</text>
<text transform="translate(119.69,175.40) scale(0.3527,0.3620)">0.08</text>
<text transform="translate(404.38,69.17) scale(0.5635,0.5777)">Gaussian p.d.f.</text>
<text transform="translate(105.10,557.60) rotate(-90) scale(0.3498,0.3739)">Projection of gaussian PDF</text>
<text transform="translate(1035.57,1067.70) scale(0.3333,0.3472)">x</text>
<g shape-rendering="crispEdges">
<rect x="1389" y="120" width="859" height="1" fill="#000"/>
<rect x="1389" y="993" width="859" height="1" fill="#000"/>
<rect x="1389" y="120" width="1" height="874" fill="#000"/>
<rect x="2247" y="120" width="1" height="874" fill="#000"/>
</g>
<g shape-rendering="crispEdges">
<rect x="1392" y="990" width="1" height="4" fill="#000"/>
<rect x="1386" y="990" width="13" height="1" fill="#000"/>
<rect x="1401" y="984" width="1" height="10" fill="#000"/>
<rect x="1395" y="984" width="13" height="1" fill="#000"/>
<rect x="1395" y="993" width="13" height="1" fill="#000"/>
<rect x="1410" y="990" width="1" height="4" fill="#000"/>
<rect x="1404" y="990" width="13" height="1" fill="#000"/>
<rect x="1419" y="990" width="1" height="4" fill="#000"/>
<rect x="1413" y="990" width="13" height="1" fill="#000"/>
<rect x="1428" y="984" width="1" height="10" fill="#000"/>
<rect x="1422" y="984" width="13" height="1" fill="#000"/>
<rect x="1422" y="993" width="13" height="1" fill="#000"/>
<rect x="1437" y="990" width="1" height="4" fill="#000"/>
<rect x="1431" y="990" width="13" height="1" fill="#000"/>
<rect x="1443" y="984" width="1" height="10" fill="#000"/>
<rect x="1437" y="984" width="13" height="1" fill="#000"/>
<rect x="1437" y="993" width="13" height="1" fill="#000"/>
<rect x="1452" y="975" width="1" height="13" fill="#000"/>
<rect x="1446" y="975" width="13" height="1" fill="#000"/>
<rect x="1446" y="987" width="13" height="1" fill="#000"/>
<rect x="1461" y="990" width="1" height="4" fill="#000"/>
<rect x="1455" y="990" width="13" height="1" fill="#000"/>
<rect x="1470" y="984" width="1" height="10" fill="#000"/>
<rect x="1464" y="984" width="13" height="1" fill="#000"/>
<rect x="1464" y="993" width="13" height="1" fill="#000"/>
<rect x="1479" y="984" width="1" height="10" fill="#000"/>
<rect x="1473" y="984" width="13" height="1" fill="#000"/>
<rect x="1473" y="993" width="13" height="1" fill="#000"/>
<rect x="1488" y="978" width="1" height="13" fill="#000"/>
<rect x="1482" y="978" width="13" height="1" fill="#000"/>
<rect x="1482" y="990" width="13" height="1" fill="#000"/>
<rect x="1497" y="978" width="1" height="13" fill="#000"/>
<rect x="1491" y="978" width="13" height="1" fill="#000"/>
<rect x="1491" y="990" width="13" height="1" fill="#000"/>
<rect x="1503" y="972" width="1" height="16" fill="#000"/>
<rect x="1497" y="972" width="13" height="1" fill="#000"/>
<rect x="1497" y="987" width="13" height="1" fill="#000"/>
<rect x="1512" y="969" width="1" height="16" fill="#000"/>
<rect x="1506" y="969" width="13" height="1" fill="#000"/>
<rect x="1506" y="984" width="13" height="1" fill="#000"/>
<rect x="1521" y="948" width="1" height="25" fill="#000"/>
<rect x="1515" y="948" width="13" height="1" fill="#000"/>
<rect x="1515" y="972" width="13" height="1" fill="#000"/>
<rect x="1530" y="966" width="1" height="16" fill="#000"/>
<rect x="1524" y="966" width="13" height="1" fill="#000"/>
<rect x="1524" y="981" width="13" height="1" fill="#000"/>
<rect x="1539" y="954" width="1" height="22" fill="#000"/>
<rect x="1533" y="954" width="13" height="1" fill="#000"/>
<rect x="1533" y="975" width="13" height="1" fill="#000"/>
<rect x="1548" y="936" width="1" height="25" fill="#000"/>
<rect x="1542" y="936" width="13" height="1" fill="#000"/>
<rect x="1542" y="960" width="13" height="1" fill="#000"/>
<rect x="1557" y="951" width="1" height="22" fill="#000"/>
<rect x="1551" y="951" width="13" height="1" fill="#000"/>
<rect x="1551" y="972" width="13" height="1" fill="#000"/>
<rect x="1566" y="948" width="1" height="25" fill="#000"/>
<rect x="1560" y="948" width="13" height="1" fill="#000"/>
<rect x="1560" y="972" width="13" height="1" fill="#000"/>
<rect x="1572" y="918" width="1" height="31" fill="#000"/>
<rect x="1566" y="918" width="13" height="1" fill="#000"/>
<rect x="1566" y="948" width="13" height="1" fill="#000"/>
<rect x="1581" y="888" width="1" height="34" fill="#000"/>
<rect x="1575" y="888" width="13" height="1" fill="#000"/>
<rect x="1575" y="921" width="13" height="1" fill="#000"/>
<rect x="1590" y="879" width="1" height="37" fill="#000"/>
<rect x="1584" y="879" width="13" height="1" fill="#000"/>
<rect x="1584" y="915" width="13" height="1" fill="#000"/>
<rect x="1599" y="882" width="1" height="37" fill="#000"/>
<rect x="1593" y="882" width="13" height="1" fill="#000"/>
<rect x="1593" y="918" width="13" height="1" fill="#000"/>
<rect x="1608" y="852" width="1" height="40" fill="#000"/>
<rect x="1602" y="852" width="13" height="1" fill="#000"/>
<rect x="1602" y="891" width="13" height="1" fill="#000"/>
<rect x="1617" y="894" width="1" height="34" fill="#000"/>
<rect x="1611" y="894" width="13" height="1" fill="#000"/>
<rect x="1611" y="927" width="13" height="1" fill="#000"/>
<rect x="1626" y="852" width="1" height="40" fill="#000"/>
<rect x="1620" y="852" width="13" height="1" fill="#000"/>
<rect x="1620" y="891" width="13" height="1" fill="#000"/>
<rect x="1632" y="819" width="1" height="43" fill="#000"/>
<rect x="1626" y="819" width="13" height="1" fill="#000"/>
<rect x="1626" y="861" width="13" height="1" fill="#000"/>
<rect x="1641" y="789" width="1" height="49" fill="#000"/>
<rect x="1635" y="789" width="13" height="1" fill="#000"/>
<rect x="1635" y="837" width="13" height="1" fill="#000"/>
<rect x="1650" y="768" width="1" height="49" fill="#000"/>
<rect x="1644" y="768" width="13" height="1" fill="#000"/>
<rect x="1644" y="816" width="13" height="1" fill="#000"/>
<rect x="1659" y="765" width="1" height="49" fill="#000"/>
<rect x="1653" y="765" width="13" height="1" fill="#000"/>
<rect x="1653" y="813" width="13" height="1" fill="#000"/>
<rect x="1668" y="705" width="1" height="58" fill="#000"/>
<rect x="1662" y="705" width="13" height="1" fill="#000"/>
<rect x="1662" y="762" width="13" height="1" fill="#000"/>
<rect x="1677" y="705" width="1" height="58" fill="#000"/>
<rect x="1671" y="705" width="13" height="1" fill="#000"/>
<rect x="1671" y="762" width="13" height="1" fill="#000"/>
<rect x="1686" y="690" width="1" height="55" fill="#000"/>
<rect x="1680" y="690" width="13" height="1" fill="#000"/>
<rect x="1680" y="744" width="13" height="1" fill="#000"/>
<rect x="1695" y="633" width="1" height="61" fill="#000"/>
<rect x="1689" y="633" width="13" height="1" fill="#000"/>
<rect x="1689" y="693" width="13" height="1" fill="#000"/>
<rect x="1701" y="660" width="1" height="58" fill="#000"/>
<rect x="1695" y="660" width="13" height="1" fill="#000"/>
<rect x="1695" y="717" width="13" height="1" fill="#000"/>
<rect x="1710" y="630" width="1" height="61" fill="#000"/>
<rect x="1704" y="630" width="13" height="1" fill="#000"/>
<rect x="1704" y="690" width="13" height="1" fill="#000"/>
<rect x="1719" y="549" width="1" height="67" fill="#000"/>
<rect x="1713" y="549" width="13" height="1" fill="#000"/>
<rect x="1713" y="615" width="13" height="1" fill="#000"/>
<rect x="1728" y="552" width="1" height="67" fill="#000"/>
<rect x="1722" y="552" width="13" height="1" fill="#000"/>
<rect x="1722" y="618" width="13" height="1" fill="#000"/>
<rect x="1737" y="537" width="1" height="70" fill="#000"/>
<rect x="1731" y="537" width="13" height="1" fill="#000"/>
<rect x="1731" y="606" width="13" height="1" fill="#000"/>
<rect x="1746" y="465" width="1" height="73" fill="#000"/>
<rect x="1740" y="465" width="13" height="1" fill="#000"/>
<rect x="1740" y="537" width="13" height="1" fill="#000"/>
<rect x="1755" y="459" width="1" height="73" fill="#000"/>
<rect x="1749" y="459" width="13" height="1" fill="#000"/>
<rect x="1749" y="531" width="13" height="1" fill="#000"/>
<rect x="1761" y="342" width="1" height="82" fill="#000"/>
<rect x="1755" y="342" width="13" height="1" fill="#000"/>
<rect x="1755" y="423" width="13" height="1" fill="#000"/>
<rect x="1770" y="381" width="1" height="82" fill="#000"/>
<rect x="1764" y="381" width="13" height="1" fill="#000"/>
<rect x="1764" y="462" width="13" height="1" fill="#000"/>
<rect x="1779" y="393" width="1" height="79" fill="#000"/>
<rect x="1773" y="393" width="13" height="1" fill="#000"/>
<rect x="1773" y="471" width="13" height="1" fill="#000"/>
<rect x="1788" y="357" width="1" height="82" fill="#000"/>
<rect x="1782" y="357" width="13" height="1" fill="#000"/>
<rect x="1782" y="438" width="13" height="1" fill="#000"/>
<rect x="1797" y="321" width="1" height="82" fill="#000"/>
<rect x="1791" y="321" width="13" height="1" fill="#000"/>
<rect x="1791" y="402" width="13" height="1" fill="#000"/>
<rect x="1806" y="276" width="1" height="85" fill="#000"/>
<rect x="1800" y="276" width="13" height="1" fill="#000"/>
<rect x="1800" y="360" width="13" height="1" fill="#000"/>
<rect x="1815" y="192" width="1" height="91" fill="#000"/>
<rect x="1809" y="192" width="13" height="1" fill="#000"/>
<rect x="1809" y="282" width="13" height="1" fill="#000"/>
<rect x="1821" y="306" width="1" height="85" fill="#000"/>
<rect x="1815" y="306" width="13" height="1" fill="#000"/>
<rect x="1815" y="390" width="13" height="1" fill="#000"/>
<rect x="1830" y="255" width="1" height="88" fill="#000"/>
<rect x="1824" y="255" width="13" height="1" fill="#000"/>
<rect x="1824" y="342" width="13" height="1" fill="#000"/>
<rect x="1839" y="267" width="1" height="88" fill="#000"/>
<rect x="1833" y="267" width="13" height="1" fill="#000"/>
<rect x="1833" y="354" width="13" height="1" fill="#000"/>
<rect x="1848" y="231" width="1" height="88" fill="#000"/>
<rect x="1842" y="231" width="13" height="1" fill="#000"/>
<rect x="1842" y="318" width="13" height="1" fill="#000"/>
<rect x="1857" y="204" width="1" height="91" fill="#000"/>
<rect x="1851" y="204" width="13" height="1" fill="#000"/>
<rect x="1851" y="294" width="13" height="1" fill="#000"/>
<rect x="1866" y="162" width="1" height="91" fill="#000"/>
<rect x="1860" y="162" width="13" height="1" fill="#000"/>
<rect x="1860" y="252" width="13" height="1" fill="#000"/>
<rect x="1875" y="210" width="1" height="91" fill="#000"/>
<rect x="1869" y="210" width="13" height="1" fill="#000"/>
<rect x="1869" y="300" width="13" height="1" fill="#000"/>
<rect x="1884" y="282" width="1" height="85" fill="#000"/>
<rect x="1878" y="282" width="13" height="1" fill="#000"/>
<rect x="1878" y="366" width="13" height="1" fill="#000"/>
<rect x="1890" y="222" width="1" height="91" fill="#000"/>
<rect x="1884" y="222" width="13" height="1" fill="#000"/>
<rect x="1884" y="312" width="13" height="1" fill="#000"/>
<rect x="1899" y="219" width="1" height="91" fill="#000"/>
<rect x="1893" y="219" width="13" height="1" fill="#000"/>
<rect x="1893" y="309" width="13" height="1" fill="#000"/>
<rect x="1908" y="288" width="1" height="85" fill="#000"/>
<rect x="1902" y="288" width="13" height="1" fill="#000"/>
<rect x="1902" y="372" width="13" height="1" fill="#000"/>
<rect x="1917" y="330" width="1" height="82" fill="#000"/>
<rect x="1911" y="330" width="13" height="1" fill="#000"/>
<rect x="1911" y="411" width="13" height="1" fill="#000"/>
<rect x="1926" y="291" width="1" height="85" fill="#000"/>
<rect x="1920" y="291" width="13" height="1" fill="#000"/>
<rect x="1920" y="375" width="13" height="1" fill="#000"/>
<rect x="1935" y="363" width="1" height="82" fill="#000"/>
<rect x="1929" y="363" width="13" height="1" fill="#000"/>
<rect x="1929" y="444" width="13" height="1" fill="#000"/>
<rect x="1944" y="360" width="1" height="82" fill="#000"/>
<rect x="1938" y="360" width="13" height="1" fill="#000"/>
<rect x="1938" y="441" width="13" height="1" fill="#000"/>
<rect x="1950" y="366" width="1" height="79" fill="#000"/>
<rect x="1944" y="366" width="13" height="1" fill="#000"/>
<rect x="1944" y="444" width="13" height="1" fill="#000"/>
<rect x="1959" y="471" width="1" height="76" fill="#000"/>
<rect x="1953" y="471" width="13" height="1" fill="#000"/>
<rect x="1953" y="546" width="13" height="1" fill="#000"/>
<rect x="1968" y="372" width="1" height="79" fill="#000"/>
<rect x="1962" y="372" width="13" height="1" fill="#000"/>
<rect x="1962" y="450" width="13" height="1" fill="#000"/>
<rect x="1977" y="408" width="1" height="79" fill="#000"/>
<rect x="1971" y="408" width="13" height="1" fill="#000"/>
<rect x="1971" y="486" width="13" height="1" fill="#000"/>
<rect x="1986" y="510" width="1" height="70" fill="#000"/>
<rect x="1980" y="510" width="13" height="1" fill="#000"/>
<rect x="1980" y="579" width="13" height="1" fill="#000"/>
<rect x="1995" y="540" width="1" height="70" fill="#000"/>
<rect x="1989" y="540" width="13" height="1" fill="#000"/>
<rect x="1989" y="609" width="13" height="1" fill="#000"/>
<rect x="2004" y="546" width="1" height="67" fill="#000"/>
<rect x="1998" y="546" width="13" height="1" fill="#000"/>
<rect x="1998" y="612" width="13" height="1" fill="#000"/>
<rect x="2013" y="627" width="1" height="61" fill="#000"/>
<rect x="2007" y="627" width="13" height="1" fill="#000"/>
<rect x="2007" y="687" width="13" height="1" fill="#000"/>
<rect x="2019" y="540" width="1" height="70" fill="#000"/>
<rect x="2013" y="540" width="13" height="1" fill="#000"/>
<rect x="2013" y="609" width="13" height="1" fill="#000"/>
<rect x="2028" y="642" width="1" height="61" fill="#000"/>
<rect x="2022" y="642" width="13" height="1" fill="#000"/>
<rect x="2022" y="702" width="13" height="1" fill="#000"/>
<rect x="2037" y="708" width="1" height="58" fill="#000"/>
<rect x="2031" y="708" width="13" height="1" fill="#000"/>
<rect x="2031" y="765" width="13" height="1" fill="#000"/>
<rect x="2046" y="708" width="1" height="58" fill="#000"/>
<rect x="2040" y="708" width="13" height="1" fill="#000"/>
<rect x="2040" y="765" width="13" height="1" fill="#000"/>
<rect x="2055" y="759" width="1" height="49" fill="#000"/>
<rect x="2049" y="759" width="13" height="1" fill="#000"/>
<rect x="2049" y="807" width="13" height="1" fill="#000"/>
<rect x="2064" y="753" width="1" height="52" fill="#000"/>
<rect x="2058" y="753" width="13" height="1" fill="#000"/>
<rect x="2058" y="804" width="13" height="1" fill="#000"/>
<rect x="2073" y="816" width="1" height="43" fill="#000"/>
<rect x="2067" y="816" width="13" height="1" fill="#000"/>
<rect x="2067" y="858" width="13" height="1" fill="#000"/>
<rect x="2079" y="813" width="1" height="46" fill="#000"/>
<rect x="2073" y="813" width="13" height="1" fill="#000"/>
<rect x="2073" y="858" width="13" height="1" fill="#000"/>
<rect x="2088" y="876" width="1" height="37" fill="#000"/>
<rect x="2082" y="876" width="13" height="1" fill="#000"/>
<rect x="2082" y="912" width="13" height="1" fill="#000"/>
<rect x="2097" y="804" width="1" height="46" fill="#000"/>
<rect x="2091" y="804" width="13" height="1" fill="#000"/>
<rect x="2091" y="849" width="13" height="1" fill="#000"/>
<rect x="2106" y="882" width="1" height="37" fill="#000"/>
<rect x="2100" y="882" width="13" height="1" fill="#000"/>
<rect x="2100" y="918" width="13" height="1" fill="#000"/>
<rect x="2115" y="870" width="1" height="37" fill="#000"/>
<rect x="2109" y="870" width="13" height="1" fill="#000"/>
<rect x="2109" y="906" width="13" height="1" fill="#000"/>
<rect x="2124" y="855" width="1" height="40" fill="#000"/>
<rect x="2118" y="855" width="13" height="1" fill="#000"/>
<rect x="2118" y="894" width="13" height="1" fill="#000"/>
<rect x="2133" y="900" width="1" height="34" fill="#000"/>
<rect x="2127" y="900" width="13" height="1" fill="#000"/>
<rect x="2127" y="933" width="13" height="1" fill="#000"/>
<rect x="2142" y="906" width="1" height="31" fill="#000"/>
<rect x="2136" y="906" width="13" height="1" fill="#000"/>
<rect x="2136" y="936" width="13" height="1" fill="#000"/>
<rect x="2148" y="912" width="1" height="31" fill="#000"/>
<rect x="2142" y="912" width="13" height="1" fill="#000"/>
<rect x="2142" y="942" width="13" height="1" fill="#000"/>
<rect x="2157" y="909" width="1" height="31" fill="#000"/>
<rect x="2151" y="909" width="13" height="1" fill="#000"/>
<rect x="2151" y="939" width="13" height="1" fill="#000"/>
<rect x="2166" y="924" width="1" height="28" fill="#000"/>
<rect x="2160" y="924" width="13" height="1" fill="#000"/>
<rect x="2160" y="951" width="13" height="1" fill="#000"/>
<rect x="2175" y="954" width="1" height="22" fill="#000"/>
<rect x="2169" y="954" width="13" height="1" fill="#000"/>
<rect x="2169" y="975" width="13" height="1" fill="#000"/>
<rect x="2184" y="957" width="1" height="22" fill="#000"/>
<rect x="2178" y="957" width="13" height="1" fill="#000"/>
<rect x="2178" y="978" width="13" height="1" fill="#000"/>
<rect x="2193" y="933" width="1" height="28" fill="#000"/>
<rect x="2187" y="933" width="13" height="1" fill="#000"/>
<rect x="2187" y="960" width="13" height="1" fill="#000"/>
<rect x="2202" y="957" width="1" height="22" fill="#000"/>
<rect x="2196" y="957" width="13" height="1" fill="#000"/>
<rect x="2196" y="978" width="13" height="1" fill="#000"/>
<rect x="2208" y="972" width="1" height="16" fill="#000"/>
<rect x="2202" y="972" width="13" height="1" fill="#000"/>
<rect x="2202" y="987" width="13" height="1" fill="#000"/>
<rect x="2217" y="984" width="1" height="10" fill="#000"/>
<rect x="2211" y="984" width="13" height="1" fill="#000"/>
<rect x="2211" y="993" width="13" height="1" fill="#000"/>
<rect x="2226" y="969" width="1" height="16" fill="#000"/>
<rect x="2220" y="969" width="13" height="1" fill="#000"/>
<rect x="2220" y="984" width="13" height="1" fill="#000"/>
<rect x="2235" y="975" width="1" height="13" fill="#000"/>
<rect x="2229" y="975" width="13" height="1" fill="#000"/>
<rect x="2229" y="987" width="13" height="1" fill="#000"/>
<rect x="2244" y="975" width="1" height="13" fill="#000"/>
<rect x="2238" y="975" width="13" height="1" fill="#000"/>
<rect x="2238" y="987" width="13" height="1" fill="#000"/>
</g>
<g fill="#000">
<circle cx="1392.5" cy="993.5" r="12.5"/>
<circle cx="1401.5" cy="990.5" r="12.5"/>
<circle cx="1410.5" cy="993.5" r="12.5"/>
<circle cx="1419.5" cy="993.5" r="12.5"/>
<circle cx="1428.5" cy="990.5" r="12.5"/>
<circle cx="1437.5" cy="993.5" r="12.5"/>
<circle cx="1443.5" cy="990.5" r="12.5"/>
<circle cx="1452.5" cy="984.5" r="12.5"/>
<circle cx="1461.5" cy="993.5" r="12.5"/>
<circle cx="1470.5" cy="990.5" r="12.5"/>
<circle cx="1479.5" cy="990.5" r="12.5"/>
<circle cx="1488.5" cy="987.5" r="12.5"/>
<circle cx="1497.5" cy="987.5" r="12.5"/>
<circle cx="1503.5" cy="981.5" r="12.5"/>
<circle cx="1512.5" cy="978.5" r="12.5"/>
<circle cx="1521.5" cy="960.5" r="12.5"/>
<circle cx="1530.5" cy="975.5" r="12.5"/>
<circle cx="1539.5" cy="966.5" r="12.5"/>
<circle cx="1548.5" cy="951.5" r="12.5"/>
<circle cx="1557.5" cy="963.5" r="12.5"/>
<circle cx="1566.5" cy="960.5" r="12.5"/>
<circle cx="1572.5" cy="933.5" r="12.5"/>
<circle cx="1581.5" cy="906.5" r="12.5"/>
<circle cx="1590.5" cy="900.5" r="12.5"/>
<circle cx="1599.5" cy="903.5" r="12.5"/>
<circle cx="1608.5" cy="873.5" r="12.5"/>
<circle cx="1617.5" cy="912.5" r="12.5"/>
<circle cx="1626.5" cy="873.5" r="12.5"/>
<circle cx="1632.5" cy="843.5" r="12.5"/>
<circle cx="1641.5" cy="816.5" r="12.5"/>
<circle cx="1650.5" cy="792.5" r="12.5"/>
<circle cx="1659.5" cy="789.5" r="12.5"/>
<circle cx="1668.5" cy="735.5" r="12.5"/>
<circle cx="1677.5" cy="735.5" r="12.5"/>
<circle cx="1686.5" cy="720.5" r="12.5"/>
<circle cx="1695.5" cy="666.5" r="12.5"/>
<circle cx="1701.5" cy="690.5" r="12.5"/>
<circle cx="1710.5" cy="663.5" r="12.5"/>
<circle cx="1719.5" cy="582.5" r="12.5"/>
<circle cx="1728.5" cy="585.5" r="12.5"/>
<circle cx="1737.5" cy="573.5" r="12.5"/>
<circle cx="1746.5" cy="501.5" r="12.5"/>
<circle cx="1755.5" cy="495.5" r="12.5"/>
<circle cx="1761.5" cy="384.5" r="12.5"/>
<circle cx="1770.5" cy="423.5" r="12.5"/>
<circle cx="1779.5" cy="435.5" r="12.5"/>
<circle cx="1788.5" cy="399.5" r="12.5"/>
<circle cx="1797.5" cy="363.5" r="12.5"/>
<circle cx="1806.5" cy="321.5" r="12.5"/>
<circle cx="1815.5" cy="237.5" r="12.5"/>
<circle cx="1821.5" cy="351.5" r="12.5"/>
<circle cx="1830.5" cy="300.5" r="12.5"/>
<circle cx="1839.5" cy="312.5" r="12.5"/>
<circle cx="1848.5" cy="276.5" r="12.5"/>
<circle cx="1857.5" cy="249.5" r="12.5"/>
<circle cx="1866.5" cy="207.5" r="12.5"/>
<circle cx="1875.5" cy="258.5" r="12.5"/>
<circle cx="1884.5" cy="324.5" r="12.5"/>
<circle cx="1890.5" cy="267.5" r="12.5"/>
<circle cx="1899.5" cy="264.5" r="12.5"/>
<circle cx="1908.5" cy="330.5" r="12.5"/>
<circle cx="1917.5" cy="372.5" r="12.5"/>
<circle cx="1926.5" cy="333.5" r="12.5"/>
<circle cx="1935.5" cy="405.5" r="12.5"/>
<circle cx="1944.5" cy="402.5" r="12.5"/>
<circle cx="1950.5" cy="408.5" r="12.5"/>
<circle cx="1959.5" cy="510.5" r="12.5"/>
<circle cx="1968.5" cy="411.5" r="12.5"/>
<circle cx="1977.5" cy="447.5" r="12.5"/>
<circle cx="1986.5" cy="546.5" r="12.5"/>
<circle cx="1995.5" cy="576.5" r="12.5"/>
<circle cx="2004.5" cy="582.5" r="12.5"/>
<circle cx="2013.5" cy="660.5" r="12.5"/>
<circle cx="2019.5" cy="576.5" r="12.5"/>
<circle cx="2028.5" cy="672.5" r="12.5"/>
<circle cx="2037.5" cy="738.5" r="12.5"/>
<circle cx="2046.5" cy="738.5" r="12.5"/>
<circle cx="2055.5" cy="786.5" r="12.5"/>
<circle cx="2064.5" cy="780.5" r="12.5"/>
<circle cx="2073.5" cy="840.5" r="12.5"/>
<circle cx="2079.5" cy="837.5" r="12.5"/>
<circle cx="2088.5" cy="897.5" r="12.5"/>
<circle cx="2097.5" cy="828.5" r="12.5"/>
<circle cx="2106.5" cy="903.5" r="12.5"/>
<circle cx="2115.5" cy="891.5" r="12.5"/>
<circle cx="2124.5" cy="876.5" r="12.5"/>
<circle cx="2133.5" cy="918.5" r="12.5"/>
<circle cx="2142.5" cy="924.5" r="12.5"/>
<circle cx="2148.5" cy="930.5" r="12.5"/>
<circle cx="2157.5" cy="927.5" r="12.5"/>
<circle cx="2166.5" cy="939.5" r="12.5"/>
<circle cx="2175.5" cy="966.5" r="12.5"/>
<circle cx="2184.5" cy="969.5" r="12.5"/>
<circle cx="2193.5" cy="948.5" r="12.5"/>
<circle cx="2202.5" cy="969.5" r="12.5"/>
<circle cx="2208.5" cy="981.5" r="12.5"/>
<circle cx="2217.5" cy="990.5" r="12.5"/>
<circle cx="2226.5" cy="978.5" r="12.5"/>
<circle cx="2235.5" cy="984.5" r="12.5"/>
<circle cx="2244.5" cy="984.5" r="12.5"/>
</g>
<g shape-rendering="crispEdges">
<path fill="#0000ff" d="M1853 269h18v1h-18zM1851 270h22v1h-22zM1850 271h24v1h-24zM1848 272h7v1h-7zM1869 272h7v1h-7zM1847 273h6v1h-6zM1871 273h6v1h-6zM1872 274h7v1h-7zM1845 274h7v1h-7zM1874 275h6v1h-6zM1844 275h6v1h-6zM1843 276h6v1h-6zM1875 276h6v1h-6zM1877 277h5v1h-5zM1842 277h5v1h-5zM1878 278h5v1h-5zM1841 278h5v1h-5zM1840 279h5v1h-5zM1879 279h5v1h-5zM1880 280h5v1h-5zM1839 280h5v1h-5zM1838 281h5v1h-5zM1881 281h5v1h-5zM1882 282h5v1h-5zM1837 282h5v1h-5zM1836 283h5v1h-5zM1883 283h5v1h-5zM1884 284h5v1h-5zM1835 284h5v1h-5zM1834 285h5v1h-5zM1885 285h5v1h-5zM1886 286h5v1h-5zM1833 286h5v1h-5zM1832 287h5v1h-5zM1887 287h5v1h-5zM1831 288h5v1h-5zM1888 288h5v1h-5zM1889 289h5v1h-5zM1830 289h5v1h-5zM1829 290h5v1h-5zM1890 290h5v1h-5zM1891 291h5v1h-5zM1828 291h5v1h-5zM1827 292h5v1h-5zM1892 292h5v1h-5zM1893 293h5v1h-5zM1826 293h5v1h-5zM1825 294h5v1h-5zM1894 294h5v1h-5zM1825 295h4v1h-4zM1895 295h4v1h-4zM1824 296h4v2h-4zM1896 296h4v2h-4zM1897 298h4v1h-4zM1823 298h4v1h-4zM1897 299h5v1h-5zM1822 299h5v1h-5zM1822 300h4v1h-4zM1898 300h4v1h-4zM1899 301h4v2h-4zM1821 301h4v2h-4zM1900 303h4v1h-4zM1820 303h4v1h-4zM1900 304h5v1h-5zM1819 304h5v1h-5zM1901 305h4v1h-4zM1819 305h4v1h-4zM1902 306h4v2h-4zM1818 306h4v2h-4zM1903 308h4v1h-4zM1903 309h5v1h-5zM1817 308h4v2h-4zM1904 310h4v1h-4zM1816 310h4v2h-4zM1905 311h4v2h-4zM1815 312h4v2h-4zM1906 313h4v2h-4zM1814 314h4v2h-4zM1907 315h4v2h-4zM1813 316h4v2h-4zM1908 317h4v2h-4zM1812 318h4v2h-4zM1909 319h4v2h-4zM1811 320h4v2h-4zM1910 321h4v2h-4zM1810 322h4v2h-4zM1911 323h4v2h-4zM1809 324h4v2h-4zM1912 325h4v2h-4zM1913 327h3v1h-3zM1808 326h4v2h-4zM1807 328h4v2h-4zM1913 328h4v2h-4zM1914 330h3v1h-3zM1806 330h4v2h-4zM1914 331h4v2h-4zM1805 332h4v2h-4zM1915 333h3v1h-3zM1915 334h4v2h-4zM1804 334h4v2h-4zM1916 336h3v1h-3zM1803 336h4v2h-4zM1916 337h4v2h-4zM1917 339h3v1h-3zM1802 338h4v2h-4zM1917 340h4v2h-4zM1801 340h4v2h-4zM1918 342h3v1h-3zM1800 342h4v2h-4zM1918 343h4v2h-4zM1919 345h3v1h-3zM1799 344h4v2h-4zM1798 346h4v2h-4zM1919 346h4v2h-4zM1797 348h4v2h-4zM1920 348h4v2h-4zM1796 350h4v2h-4zM1921 350h4v2h-4zM1796 352h3v1h-3zM1922 352h3v1h-3zM1795 353h4v2h-4zM1922 353h4v2h-4zM1794 355h4v2h-4zM1923 355h4v2h-4zM1924 357h4v2h-4zM1793 357h4v2h-4zM1793 359h3v1h-3zM1925 359h3v1h-3zM1792 360h4v2h-4zM1925 360h4v2h-4zM1926 362h4v2h-4zM1791 362h4v2h-4zM1927 364h4v2h-4zM1790 364h4v2h-4zM1928 366h3v1h-3zM1790 366h3v2h-3zM1928 367h4v2h-4zM1789 368h4v2h-4zM1929 369h4v2h-4zM1789 370h3v2h-3zM1930 371h3v1h-3zM1930 372h4v2h-4zM1788 372h4v2h-4zM1931 374h3v1h-3zM1788 374h3v2h-3zM1931 375h4v2h-4zM1787 376h4v2h-4zM1932 377h4v2h-4zM1787 378h3v2h-3zM1933 379h3v1h-3zM1933 380h4v2h-4zM1786 380h4v2h-4zM1934 382h3v1h-3zM1786 382h3v2h-3zM1934 383h4v2h-4zM1785 384h4v2h-4zM1935 385h4v2h-4zM1785 386h3v2h-3zM1936 387h3v1h-3zM1784 388h4v2h-4zM1936 388h4v2h-4zM1937 390h3v1h-3zM1784 390h3v1h-3zM1783 391h4v2h-4zM1937 391h4v2h-4zM1783 393h3v1h-3zM1938 393h4v2h-4zM1939 395h3v1h-3zM1782 394h4v2h-4zM1939 396h4v2h-4zM1781 396h4v2h-4zM1940 398h3v1h-3zM1781 398h3v1h-3zM1780 399h4v2h-4zM1940 399h4v2h-4zM1780 401h3v1h-3zM1941 401h4v2h-4zM1942 403h3v1h-3zM1779 402h4v2h-4zM1942 404h4v2h-4zM1778 404h4v2h-4zM1943 406h3v1h-3zM1778 406h3v1h-3zM1943 407h4v2h-4zM1777 407h4v2h-4zM1777 409h3v1h-3zM1944 409h4v2h-4zM1776 410h4v2h-4zM1945 411h3v1h-3zM1945 412h4v2h-4zM1775 412h4v2h-4zM1946 414h3v1h-3zM1775 414h3v1h-3zM1774 415h4v2h-4zM1946 415h4v2h-4zM1774 417h3v1h-3zM1947 417h3v1h-3zM1947 418h4v2h-4zM1773 418h4v2h-4zM1773 420h3v1h-3zM1948 420h3v1h-3zM1772 421h4v2h-4zM1948 421h4v2h-4zM1949 423h3v1h-3zM1772 423h3v1h-3zM1771 424h4v2h-4zM1949 424h4v2h-4zM1950 426h3v1h-3zM1771 426h3v1h-3zM1770 427h4v2h-4zM1950 427h4v2h-4zM1951 429h3v1h-3zM1770 429h3v1h-3zM1769 430h4v2h-4zM1951 430h4v2h-4zM1952 432h3v1h-3zM1769 432h3v1h-3zM1952 433h4v2h-4zM1768 433h4v2h-4zM1768 435h3v1h-3zM1953 435h3v1h-3zM1767 436h4v2h-4zM1953 436h4v2h-4zM1767 438h3v1h-3zM1954 438h3v1h-3zM1954 439h4v2h-4zM1766 439h4v2h-4zM1766 441h3v1h-3zM1955 441h3v1h-3zM1955 442h4v2h-4zM1765 442h4v2h-4zM1765 444h3v1h-3zM1956 444h3v1h-3zM1956 445h4v2h-4zM1764 445h4v2h-4zM1764 447h3v1h-3zM1957 447h3v1h-3zM1763 448h4v2h-4zM1957 448h4v2h-4zM1958 450h3v1h-3zM1763 450h3v1h-3zM1762 451h4v2h-4zM1958 451h4v2h-4zM1959 453h3v1h-3zM1762 453h3v1h-3zM1761 454h4v2h-4zM1959 454h4v2h-4zM1960 456h3v1h-3zM1761 456h3v1h-3zM1760 457h4v2h-4zM1960 457h4v2h-4zM1961 459h3v1h-3zM1760 459h3v1h-3zM1961 460h4v2h-4zM1759 460h4v2h-4zM1962 462h3v1h-3zM1759 462h3v1h-3zM1758 463h4v2h-4zM1962 463h4v2h-4zM1758 465h3v1h-3zM1963 465h3v1h-3zM1963 466h4v2h-4zM1757 466h4v2h-4zM1964 468h3v1h-3zM1757 468h3v1h-3zM1756 469h4v2h-4zM1964 469h4v2h-4zM1965 471h3v1h-3zM1756 471h3v2h-3zM1965 472h4v2h-4zM1755 473h4v2h-4zM1755 475h3v1h-3zM1966 474h3v2h-3zM1966 476h4v2h-4zM1754 476h4v2h-4zM1754 478h3v1h-3zM1967 478h3v1h-3zM1967 479h4v2h-4zM1753 479h4v2h-4zM1968 481h3v1h-3zM1753 481h3v2h-3zM1968 482h4v2h-4zM1752 483h4v2h-4zM1752 485h3v1h-3zM1969 484h3v2h-3zM1751 486h4v2h-4zM1969 486h4v2h-4zM1970 488h3v1h-3zM1751 488h3v1h-3zM1750 489h4v2h-4zM1970 489h4v2h-4zM1971 491h3v1h-3zM1750 491h3v2h-3zM1971 492h4v2h-4zM1749 493h4v2h-4zM1972 494h3v2h-3zM1749 495h3v1h-3zM1972 496h4v2h-4zM1748 496h4v2h-4zM1748 498h3v1h-3zM1973 498h3v2h-3zM1747 499h4v2h-4zM1747 501h3v1h-3zM1973 500h4v2h-4zM1974 502h3v2h-3zM1746 502h4v2h-4zM1746 504h3v1h-3zM1974 504h4v2h-4zM1745 505h4v2h-4zM1745 507h3v1h-3zM1975 506h3v3h-3zM1744 508h4v2h-4zM1975 509h4v2h-4zM1744 510h3v1h-3zM1976 511h3v2h-3zM1743 511h4v2h-4zM1743 513h3v1h-3zM1976 513h4v2h-4zM1742 514h4v2h-4zM1742 516h3v1h-3zM1977 515h3v3h-3zM1741 517h4v2h-4zM1741 519h3v1h-3zM1977 518h4v2h-4zM1978 520h3v2h-3zM1740 520h4v2h-4zM1740 522h3v1h-3zM1978 522h4v2h-4zM1739 523h4v2h-4zM1739 525h3v1h-3zM1979 524h3v2h-3zM1979 526h4v2h-4zM1738 526h4v2h-4zM1980 528h3v1h-3zM1738 528h3v2h-3zM1980 529h4v2h-4zM1737 530h4v2h-4zM1737 532h3v1h-3zM1981 531h3v2h-3zM1981 533h4v2h-4zM1736 533h4v2h-4zM1736 535h3v1h-3zM1982 535h3v1h-3zM1982 536h4v2h-4zM1735 536h4v2h-4zM1983 538h3v1h-3zM1735 538h3v2h-3zM1983 539h4v2h-4zM1734 540h4v2h-4zM1734 542h3v1h-3zM1984 541h3v2h-3zM1984 543h4v2h-4zM1733 543h4v2h-4zM1985 545h3v1h-3zM1733 545h3v1h-3zM1732 546h4v2h-4zM1985 546h4v2h-4zM1986 548h3v1h-3zM1732 548h3v2h-3zM1986 549h4v2h-4zM1731 550h4v2h-4zM1987 551h3v2h-3zM1731 552h3v1h-3zM1730 553h4v2h-4zM1987 553h4v2h-4zM1988 555h3v1h-3zM1730 555h3v2h-3zM1988 556h4v2h-4zM1989 558h3v1h-3zM1729 557h4v2h-4zM1989 559h4v2h-4zM1729 559h3v3h-3zM1990 561h3v2h-3zM1728 562h4v2h-4zM1990 563h4v2h-4zM1991 565h3v1h-3zM1728 564h3v3h-3zM1991 566h4v2h-4zM1992 568h3v1h-3zM1727 567h4v2h-4zM1992 569h4v2h-4zM1727 569h3v3h-3zM1993 571h3v2h-3zM1726 572h4v2h-4zM1993 573h4v2h-4zM1994 575h3v1h-3zM1726 574h3v3h-3zM1994 576h4v2h-4zM1725 577h4v2h-4zM1995 578h3v1h-3zM1995 579h4v2h-4zM1725 579h3v3h-3zM1996 581h3v2h-3zM1724 582h4v2h-4zM1996 583h4v2h-4zM1997 585h3v1h-3zM1724 584h3v2h-3zM1723 586h4v2h-4zM1997 586h4v2h-4zM1723 588h3v1h-3zM1998 588h3v1h-3zM1998 589h4v2h-4zM1722 589h4v2h-4zM1722 591h3v1h-3zM1999 591h3v1h-3zM1999 592h4v2h-4zM1721 592h4v2h-4zM1721 594h3v1h-3zM2000 594h3v1h-3zM2000 595h4v2h-4zM1720 595h4v2h-4zM1720 597h3v1h-3zM2001 597h3v1h-3zM2001 598h4v2h-4zM1719 598h4v2h-4zM2002 600h3v1h-3zM1719 600h3v1h-3zM1718 601h4v2h-4zM2002 601h4v2h-4zM2003 603h3v1h-3zM1718 603h3v1h-3zM1717 604h4v2h-4zM2003 604h4v2h-4zM1717 606h3v1h-3zM2004 606h3v1h-3zM1716 607h4v2h-4zM2004 607h4v2h-4zM2005 609h3v1h-3zM1716 609h3v1h-3zM2005 610h4v2h-4zM1715 610h4v2h-4zM2006 612h3v1h-3zM1715 612h3v1h-3zM1714 613h4v2h-4zM2006 613h4v2h-4zM2007 615h3v1h-3zM1714 615h3v2h-3zM2007 616h4v2h-4zM1713 617h4v2h-4zM1713 619h3v1h-3zM2008 618h3v2h-3zM2008 620h4v2h-4zM1712 620h4v2h-4zM1712 622h3v1h-3zM2009 622h3v1h-3zM2009 623h4v2h-4zM1711 623h4v2h-4zM2010 625h3v1h-3zM1711 625h3v2h-3zM2010 626h4v2h-4zM1710 627h4v2h-4zM1710 629h3v1h-3zM2011 628h3v2h-3zM2011 630h4v2h-4zM1709 630h4v2h-4zM1709 632h3v1h-3zM2012 632h3v1h-3zM1708 633h4v2h-4zM2012 633h4v2h-4zM2013 635h3v1h-3zM1708 635h3v2h-3zM2013 636h4v2h-4zM1707 637h4v2h-4zM1707 639h3v1h-3zM2014 638h3v2h-3zM1706 640h4v2h-4zM2014 640h4v2h-4zM2015 642h3v1h-3zM1706 642h3v1h-3zM1705 643h4v2h-4zM2015 643h4v2h-4zM2016 645h3v1h-3zM1705 645h3v1h-3zM1704 646h4v2h-4zM2016 646h4v2h-4zM2017 648h3v1h-3zM1704 648h3v1h-3zM2017 649h4v2h-4zM1703 649h4v2h-4zM2018 651h3v1h-3zM1703 651h3v1h-3zM2018 652h4v2h-4zM1702 652h4v2h-4zM2019 654h3v1h-3zM1702 654h3v1h-3zM1701 655h4v2h-4zM2019 655h4v2h-4zM1701 657h3v1h-3zM2020 657h3v1h-3zM2020 658h4v2h-4zM1700 658h4v2h-4zM1700 660h3v1h-3zM2021 660h3v1h-3zM1699 661h4v2h-4zM2021 661h4v2h-4zM1699 663h3v1h-3zM2022 663h3v1h-3zM2022 664h4v2h-4zM1698 664h4v2h-4zM1698 666h3v1h-3zM2023 666h3v1h-3zM1697 667h4v2h-4zM2023 667h4v2h-4zM2024 669h3v1h-3zM1697 669h3v1h-3zM2024 670h4v2h-4zM1696 670h4v2h-4zM2025 672h3v1h-3zM1696 672h3v1h-3zM1695 673h4v2h-4zM2025 673h4v2h-4zM2026 675h3v1h-3zM1695 675h3v1h-3zM1694 676h4v2h-4zM2026 676h4v2h-4zM2027 678h3v1h-3zM1694 678h3v1h-3zM2027 679h4v2h-4zM1693 679h4v2h-4zM2028 681h3v1h-3zM1693 681h3v1h-3zM1692 682h4v2h-4zM2028 682h4v2h-4zM1692 684h3v1h-3zM2029 684h3v1h-3zM2029 685h4v2h-4zM1691 685h4v2h-4zM1691 687h3v1h-3zM2030 687h3v1h-3zM2030 688h4v2h-4zM1690 688h4v2h-4zM1690 690h3v1h-3zM2031 690h3v1h-3zM2031 691h4v2h-4zM1689 691h4v2h-4zM1689 693h3v1h-3zM2032 693h3v1h-3zM2032 694h4v2h-4zM1688 694h4v2h-4zM2033 696h3v1h-3zM1688 696h3v1h-3zM2033 697h4v2h-4zM1687 697h4v2h-4zM2034 699h3v1h-3zM1687 699h3v1h-3zM1686 700h4v2h-4zM2034 700h4v2h-4zM2035 702h3v1h-3zM1686 702h3v1h-3zM1685 703h4v2h-4zM2035 703h4v2h-4zM2036 705h3v1h-3zM1685 705h3v1h-3zM2036 706h4v2h-4zM1684 706h4v2h-4zM2037 708h3v1h-3zM1684 708h3v1h-3zM1683 709h4v2h-4zM2037 709h4v2h-4zM2038 711h3v1h-3zM1683 711h3v1h-3zM2038 712h4v2h-4zM1682 712h4v2h-4zM2039 714h3v1h-3zM1682 714h3v1h-3zM1681 715h4v2h-4zM2039 715h4v2h-4zM1681 717h3v1h-3zM2040 717h3v1h-3zM2040 718h4v2h-4zM1680 718h4v2h-4zM1680 720h3v1h-3zM2041 720h3v1h-3zM2041 721h4v2h-4zM1679 721h4v2h-4zM1679 723h3v1h-3zM2042 723h3v1h-3zM2042 724h4v2h-4zM1678 724h4v2h-4zM1678 726h3v1h-3zM2043 726h3v2h-3zM1677 727h4v2h-4zM2043 728h4v2h-4zM1676 729h4v2h-4zM1676 731h3v1h-3zM2044 730h3v2h-3zM1675 732h4v2h-4zM2044 732h4v2h-4zM1675 734h3v1h-3zM2045 734h3v2h-3zM1674 735h4v2h-4zM2045 736h4v2h-4zM1673 737h4v2h-4zM2046 738h3v2h-3zM1673 739h3v1h-3zM1672 740h4v2h-4zM2046 740h4v2h-4zM1672 742h3v1h-3zM2047 742h3v2h-3zM1671 743h4v2h-4zM2047 744h4v2h-4zM1670 745h4v2h-4zM1670 747h3v1h-3zM2048 746h3v2h-3zM2048 748h4v2h-4zM1669 748h4v2h-4zM1669 750h3v1h-3zM2049 750h4v2h-4zM1668 751h4v2h-4zM2050 752h3v1h-3zM1667 753h4v2h-4zM2050 753h4v2h-4zM1667 755h3v1h-3zM2051 755h3v1h-3zM1666 756h4v2h-4zM2051 756h4v2h-4zM1666 758h3v1h-3zM2052 758h4v2h-4zM2053 760h3v1h-3zM1665 759h4v2h-4zM1664 761h4v2h-4zM2053 761h4v2h-4zM2054 763h3v1h-3zM1664 763h3v1h-3zM2054 764h4v2h-4zM1663 764h4v2h-4zM1663 766h3v1h-3zM2055 766h4v2h-4zM1662 767h4v2h-4zM2056 768h3v1h-3zM2056 769h4v2h-4zM1661 769h4v2h-4zM1661 771h3v1h-3zM2057 771h3v1h-3zM2057 772h4v2h-4zM1660 772h4v2h-4zM2058 774h4v2h-4zM1660 774h3v2h-3zM1659 776h4v2h-4zM2059 776h4v2h-4zM1659 778h3v1h-3zM2060 778h3v1h-3zM2060 779h4v2h-4zM1658 779h4v2h-4zM1658 781h3v2h-3zM2061 781h4v2h-4zM1657 783h4v2h-4zM2062 783h4v2h-4zM1657 785h3v1h-3zM2063 785h3v1h-3zM2063 786h4v2h-4zM1656 786h4v2h-4zM2064 788h4v2h-4zM1656 788h3v2h-3zM2065 790h4v2h-4zM1655 790h4v2h-4zM2066 792h3v1h-3zM1655 792h3v1h-3zM2066 793h4v2h-4zM1654 793h4v2h-4zM1653 795h4v2h-4zM2067 795h4v2h-4zM1652 797h4v2h-4zM2068 797h4v2h-4zM2069 799h3v1h-3zM1652 799h3v1h-3zM2069 800h4v2h-4zM1651 800h4v2h-4zM1650 802h4v2h-4zM2070 802h4v2h-4zM2071 804h4v2h-4zM1649 804h4v2h-4zM2072 806h3v1h-3zM1649 806h3v1h-3zM1648 807h4v2h-4zM2072 807h4v2h-4zM2073 809h4v2h-4zM1647 809h4v2h-4zM2074 811h4v2h-4zM1646 811h4v2h-4zM1646 813h3v1h-3zM2075 813h3v1h-3zM2075 814h4v2h-4zM1645 814h4v2h-4zM1644 816h4v2h-4zM2076 816h4v2h-4zM2077 818h4v2h-4zM1643 818h4v2h-4zM1643 820h3v1h-3zM2078 820h3v1h-3zM2078 821h4v2h-4zM1642 821h4v2h-4zM1641 823h4v2h-4zM2079 823h4v2h-4zM2080 825h4v2h-4zM1640 825h4v2h-4zM2081 827h3v1h-3zM1640 827h3v1h-3zM1639 828h4v2h-4zM2081 828h4v2h-4zM2082 830h4v2h-4zM1638 830h4v2h-4zM1637 832h4v2h-4zM2083 832h4v2h-4zM1637 834h3v1h-3zM2084 834h4v2h-4zM1636 835h4v2h-4zM2085 836h4v2h-4zM1635 837h4v2h-4zM2086 838h4v2h-4zM1634 839h4v2h-4zM2087 840h4v2h-4zM1633 841h4v2h-4zM2088 842h4v2h-4zM1632 843h4v2h-4zM2089 844h4v2h-4zM1631 845h4v2h-4zM2090 846h4v2h-4zM1630 847h4v2h-4zM2091 848h4v2h-4zM1629 849h4v2h-4zM1628 851h4v1h-4zM2092 850h4v2h-4zM1627 852h5v1h-5zM2093 852h4v2h-4zM1627 853h4v1h-4zM1626 854h4v2h-4zM2094 854h4v2h-4zM2095 856h4v1h-4zM1625 856h4v1h-4zM1624 857h5v1h-5zM2095 857h5v1h-5zM2096 858h4v1h-4zM1624 858h4v1h-4zM2097 859h4v2h-4zM1623 859h4v2h-4zM2098 861h4v1h-4zM1622 861h4v1h-4zM2098 862h5v1h-5zM1621 862h5v1h-5zM1621 863h4v1h-4zM2099 863h4v1h-4zM1620 864h4v2h-4zM2100 864h4v2h-4zM1619 866h4v1h-4zM1618 867h5v1h-5zM2101 866h4v2h-4zM1618 868h4v1h-4zM2102 868h4v2h-4zM1617 869h4v2h-4zM2103 870h4v2h-4zM1616 871h4v1h-4zM2104 872h3v1h-3zM1615 872h5v1h-5zM1615 873h4v1h-4zM2104 873h4v2h-4zM1614 874h4v2h-4zM2105 875h4v2h-4zM1613 876h4v1h-4zM1612 877h5v1h-5zM2106 877h3v1h-3zM1612 878h4v1h-4zM2106 878h4v2h-4zM1611 879h4v2h-4zM2107 880h4v2h-4zM1610 881h4v1h-4zM1609 882h5v1h-5zM2108 882h4v2h-4zM1609 883h4v1h-4zM2109 884h4v2h-4zM1608 884h4v2h-4zM2110 886h4v1h-4zM1607 886h4v1h-4zM1606 887h5v1h-5zM2110 887h5v1h-5zM2111 888h4v1h-4zM1606 888h4v1h-4zM2112 889h4v2h-4zM1605 889h4v2h-4zM1604 891h4v1h-4zM2113 891h4v1h-4zM1603 892h5v1h-5zM2113 892h5v1h-5zM2114 893h4v1h-4zM1603 893h4v1h-4zM1602 894h4v2h-4zM2115 894h4v2h-4zM2116 896h4v1h-4zM2116 897h5v1h-5zM1601 896h4v2h-4zM2117 898h5v1h-5zM1600 898h4v2h-4zM2118 899h4v1h-4zM2119 900h4v1h-4zM1599 900h4v2h-4zM2119 901h5v1h-5zM2120 902h5v1h-5zM1598 902h4v2h-4zM2121 903h4v1h-4zM2122 904h4v1h-4zM1597 904h4v2h-4zM2122 905h5v1h-5zM2123 906h5v1h-5zM2124 907h4v1h-4zM1596 906h4v2h-4zM1595 908h4v1h-4zM2125 908h4v1h-4zM1594 909h5v1h-5zM2125 909h5v1h-5zM2126 910h5v1h-5zM1594 910h4v1h-4zM1593 911h4v1h-4zM2127 911h4v1h-4zM2128 912h4v1h-4zM1592 912h5v1h-5zM1591 913h5v1h-5zM2128 913h5v1h-5zM2129 914h5v1h-5zM1591 914h4v1h-4zM2130 915h4v1h-4zM1590 915h4v1h-4zM2131 916h4v1h-4zM1589 916h5v1h-5zM2131 917h5v1h-5zM1588 917h5v1h-5zM1588 918h4v1h-4zM2132 918h5v1h-5zM1587 919h4v1h-4zM2133 919h4v1h-4zM1586 920h5v1h-5zM2134 920h4v1h-4zM1585 921h5v1h-5zM2134 921h5v1h-5zM2135 922h5v1h-5zM1584 922h5v1h-5zM1583 923h5v1h-5zM2136 923h5v1h-5zM2137 924h5v1h-5zM1582 924h5v1h-5zM2138 925h5v1h-5zM1581 925h5v1h-5zM1580 926h5v1h-5zM2139 926h5v1h-5zM1579 927h5v1h-5zM2140 927h5v1h-5zM1578 928h5v1h-5zM2141 928h5v1h-5zM2142 929h5v1h-5zM1577 929h5v1h-5zM1576 930h5v1h-5zM2143 930h5v1h-5zM2144 931h5v1h-5zM1575 931h5v1h-5zM2145 932h5v1h-5zM1574 932h5v1h-5zM1573 933h5v1h-5zM2146 933h5v1h-5zM1572 934h5v1h-5zM2147 934h5v1h-5zM1571 935h5v1h-5zM2148 935h5v1h-5zM1570 936h5v1h-5zM2149 936h5v1h-5zM1569 937h5v1h-5zM2150 937h5v1h-5zM2151 938h5v1h-5zM1568 938h5v1h-5zM1566 939h6v1h-6zM2152 939h6v1h-6zM1565 940h6v1h-6zM2153 940h6v1h-6zM2154 941h7v1h-7zM1563 941h7v1h-7zM2156 942h6v1h-6zM1562 942h6v1h-6zM1560 943h7v1h-7zM2157 943h7v1h-7zM1559 944h6v1h-6zM2159 944h6v1h-6zM2160 945h6v1h-6zM1558 945h6v1h-6zM2162 946h5v1h-5zM1557 946h5v1h-5zM1556 947h5v1h-5zM2163 947h5v1h-5zM2164 948h5v1h-5zM1555 948h5v1h-5zM1554 949h5v1h-5zM2165 949h5v1h-5zM2166 950h5v1h-5zM1553 950h5v1h-5zM1552 951h5v1h-5zM2167 951h5v1h-5zM2168 952h5v1h-5zM1551 952h5v1h-5zM2169 953h5v1h-5zM1550 953h5v1h-5zM1548 954h6v1h-6zM2170 954h5v1h-5zM2171 955h5v1h-5zM1547 955h6v1h-6zM1545 956h7v1h-7zM2172 956h5v1h-5zM2173 957h5v1h-5zM1544 957h6v1h-6zM2174 958h5v1h-5zM1542 958h7v1h-7zM1541 959h6v1h-6zM2175 959h5v1h-5zM2176 960h6v1h-6zM1539 960h7v1h-7zM2177 961h6v1h-6zM1538 961h6v1h-6zM2178 962h7v1h-7zM1536 962h7v1h-7zM1535 963h6v1h-6zM2180 963h6v1h-6zM1533 964h7v1h-7zM2181 964h7v1h-7zM2183 965h7v1h-7zM1531 965h7v1h-7zM2184 966h9v1h-9zM1529 966h8v1h-8zM1527 967h8v1h-8zM2186 967h10v1h-10zM2188 968h11v1h-11zM1525 968h8v1h-8zM2191 969h11v1h-11zM1522 969h9v1h-9zM2194 970h11v1h-11zM1519 970h10v1h-10zM2197 971h10v1h-10zM1517 971h10v1h-10zM1515 972h9v1h-9zM2200 972h9v1h-9zM1514 973h7v1h-7zM2203 973h7v1h-7zM2205 974h7v1h-7zM1512 974h7v1h-7zM2207 975h6v1h-6zM1511 975h6v1h-6zM2208 976h7v1h-7zM1509 976h7v1h-7zM2210 977h7v1h-7zM1507 977h7v1h-7zM2211 978h9v1h-9zM1504 978h9v1h-9zM2213 979h10v1h-10zM1501 979h10v1h-10zM1489 980h20v1h-20zM2215 980h19v1h-19zM2218 981h18v1h-18zM1486 981h20v1h-20zM1483 982h20v1h-20zM2221 982h17v1h-17zM2232 983h9v1h-9zM1480 983h11v1h-11zM1477 984h11v1h-11zM2234 984h10v1h-10zM2236 985h11v1h-11zM1474 985h11v1h-11zM2239 986h10v1h-10zM1465 986h17v1h-17zM1462 987h17v1h-17zM2242 987h7v1h-7zM1459 988h17v1h-17zM2245 988h4v1h-4zM1429 989h38v1h-38zM1426 990h38v1h-38zM1423 991h38v1h-38zM1389 992h42v1h-42zM1389 993h39v1h-39zM1389 994h36v1h-36z"/>
<rect x="1389" y="120" width="859" height="1" fill="#000"/>
<rect x="1389" y="993" width="859" height="1" fill="#000"/>
<rect x="1389" y="120" width="1" height="874" fill="#000"/>
<rect x="2247" y="120" width="1" height="874" fill="#000"/>
<rect x="1389" y="969" width="1" height="25" fill="#000"/>
<rect x="1410" y="981" width="1" height="13" fill="#000"/>
<rect x="1431" y="981" width="1" height="13" fill="#000"/>
<rect x="1452" y="981" width="1" height="13" fill="#000"/>
<rect x="1473" y="969" width="1" height="25" fill="#000"/>
<rect x="1497" y="981" width="1" height="13" fill="#000"/>
<rect x="1518" y="981" width="1" height="13" fill="#000"/>
<rect x="1539" y="981" width="1" height="13" fill="#000"/>
<rect x="1560" y="969" width="1" height="25" fill="#000"/>
<rect x="1581" y="981" width="1" height="13" fill="#000"/>
<rect x="1602" y="981" width="1" height="13" fill="#000"/>
<rect x="1626" y="981" width="1" height="13" fill="#000"/>
<rect x="1647" y="969" width="1" height="25" fill="#000"/>
<rect x="1668" y="981" width="1" height="13" fill="#000"/>
<rect x="1689" y="981" width="1" height="13" fill="#000"/>
<rect x="1710" y="981" width="1" height="13" fill="#000"/>
<rect x="1731" y="969" width="1" height="25" fill="#000"/>
<rect x="1755" y="981" width="1" height="13" fill="#000"/>
<rect x="1776" y="981" width="1" height="13" fill="#000"/>
<rect x="1797" y="981" width="1" height="13" fill="#000"/>
<rect x="1818" y="969" width="1" height="25" fill="#000"/>
<rect x="1839" y="981" width="1" height="13" fill="#000"/>
<rect x="1860" y="981" width="1" height="13" fill="#000"/>
<rect x="1884" y="981" width="1" height="13" fill="#000"/>
<rect x="1905" y="969" width="1" height="25" fill="#000"/>
<rect x="1926" y="981" width="1" height="13" fill="#000"/>
<rect x="1947" y="981" width="1" height="13" fill="#000"/>
<rect x="1968" y="981" width="1" height="13" fill="#000"/>
<rect x="1989" y="969" width="1" height="25" fill="#000"/>
<rect x="2013" y="981" width="1" height="13" fill="#000"/>
<rect x="2034" y="981" width="1" height="13" fill="#000"/>
<rect x="2055" y="981" width="1" height="13" fill="#000"/>
<rect x="2076" y="969" width="1" height="25" fill="#000"/>
<rect x="2097" y="981" width="1" height="13" fill="#000"/>
<rect x="2118" y="981" width="1" height="13" fill="#000"/>
<rect x="2142" y="981" width="1" height="13" fill="#000"/>
<rect x="2163" y="969" width="1" height="25" fill="#000"/>
<rect x="2184" y="981" width="1" height="13" fill="#000"/>
<rect x="2205" y="981" width="1" height="13" fill="#000"/>
<rect x="2226" y="981" width="1" height="13" fill="#000"/>
<rect x="2247" y="969" width="1" height="25" fill="#000"/>
<rect x="1359.10" y="1018.50" width="18.70" height="2.40" fill="#000"/>
<text transform="translate(1377.79,1029.60) scale(0.3384,0.3620)">10</text>
<rect x="1452.00" y="1018.50" width="18.30" height="2.40" fill="#000"/>
<text transform="translate(1469.59,1029.60) scale(0.3527,0.3620)">8</text>
<rect x="1539.00" y="1018.50" width="18.30" height="2.40" fill="#000"/>
<text transform="translate(1556.24,1029.60) scale(0.3527,0.3620)">6</text>
<rect x="1626.00" y="1018.50" width="18.30" height="2.40" fill="#000"/>
<text transform="translate(1644.29,1029.60) scale(0.3527,0.3620)">4</text>
<rect x="1710.00" y="1018.50" width="18.30" height="2.40" fill="#000"/>
<text transform="translate(1727.24,1029.60) scale(0.3527,0.3620)">2</text>
<text transform="translate(1805.62,1029.60) scale(0.3527,0.3620)">0</text>
<text transform="translate(1892.62,1029.60) scale(0.3527,0.3620)">2</text>
<text transform="translate(1976.80,1029.60) scale(0.3527,0.3620)">4</text>
<text transform="translate(2063.62,1029.60) scale(0.3527,0.3620)">6</text>
<text transform="translate(2150.80,1029.60) scale(0.3527,0.3620)">8</text>
<text transform="translate(2226.22,1029.60) scale(0.3475,0.3620)">10</text>
<rect x="1389" y="993" width="28" height="1" fill="#000"/>
<rect x="1389" y="966" width="13" height="1" fill="#000"/>
<rect x="1389" y="939" width="13" height="1" fill="#000"/>
<rect x="1389" y="912" width="13" height="1" fill="#000"/>
<rect x="1389" y="885" width="13" height="1" fill="#000"/>
<rect x="1389" y="858" width="28" height="1" fill="#000"/>
<rect x="1389" y="831" width="13" height="1" fill="#000"/>
<rect x="1389" y="804" width="13" height="1" fill="#000"/>
<rect x="1389" y="777" width="13" height="1" fill="#000"/>
<rect x="1389" y="750" width="13" height="1" fill="#000"/>
<rect x="1389" y="723" width="28" height="1" fill="#000"/>
<rect x="1389" y="696" width="13" height="1" fill="#000"/>
<rect x="1389" y="669" width="13" height="1" fill="#000"/>
<rect x="1389" y="642" width="13" height="1" fill="#000"/>
<rect x="1389" y="612" width="13" height="1" fill="#000"/>
<rect x="1389" y="585" width="28" height="1" fill="#000"/>
<rect x="1389" y="558" width="13" height="1" fill="#000"/>
<rect x="1389" y="531" width="13" height="1" fill="#000"/>
<rect x="1389" y="504" width="13" height="1" fill="#000"/>
<rect x="1389" y="477" width="13" height="1" fill="#000"/>
<rect x="1389" y="450" width="28" height="1" fill="#000"/>
<rect x="1389" y="423" width="13" height="1" fill="#000"/>
<rect x="1389" y="396" width="13" height="1" fill="#000"/>
<rect x="1389" y="369" width="13" height="1" fill="#000"/>
<rect x="1389" y="342" width="13" height="1" fill="#000"/>
<rect x="1389" y="315" width="28" height="1" fill="#000"/>
<rect x="1389" y="288" width="13" height="1" fill="#000"/>
<rect x="1389" y="261" width="13" height="1" fill="#000"/>
<rect x="1389" y="234" width="13" height="1" fill="#000"/>
<rect x="1389" y="207" width="13" height="1" fill="#000"/>
<rect x="1389" y="177" width="28" height="1" fill="#000"/>
<rect x="1389" y="150" width="13" height="1" fill="#000"/>
<rect x="1389" y="123" width="13" height="1" fill="#000"/>
</g>
<text transform="translate(1361.66,1009.40) scale(0.3527,0.3620)">0</text>
<text transform="translate(1342.26,874.40) scale(0.3527,0.3620)">50</text>
<text transform="translate(1322.51,739.40) scale(0.3527,0.3620)">100</text>
<text transform="translate(1322.51,601.40) scale(0.3527,0.3620)">150</text>
<text transform="translate(1322.51,466.40) scale(0.3527,0.3620)">200</text>
<text transform="translate(1322.51,331.40) scale(0.3527,0.3620)">250</text>
<text transform="translate(1322.51,193.40) scale(0.3527,0.3620)">300</text>
<text transform="translate(1475.40,69.17) scale(0.5590,0.5777)">Gaussian p.d.f. with data</text>
<text transform="translate(1299.10,353.39) rotate(-90) scale(0.3484,0.3739)">Events / ( 0.2 )</text>
<text transform="translate(2229.57,1067.70) scale(0.3313,0.3472)">x</text>
</svg>
</body></html>
